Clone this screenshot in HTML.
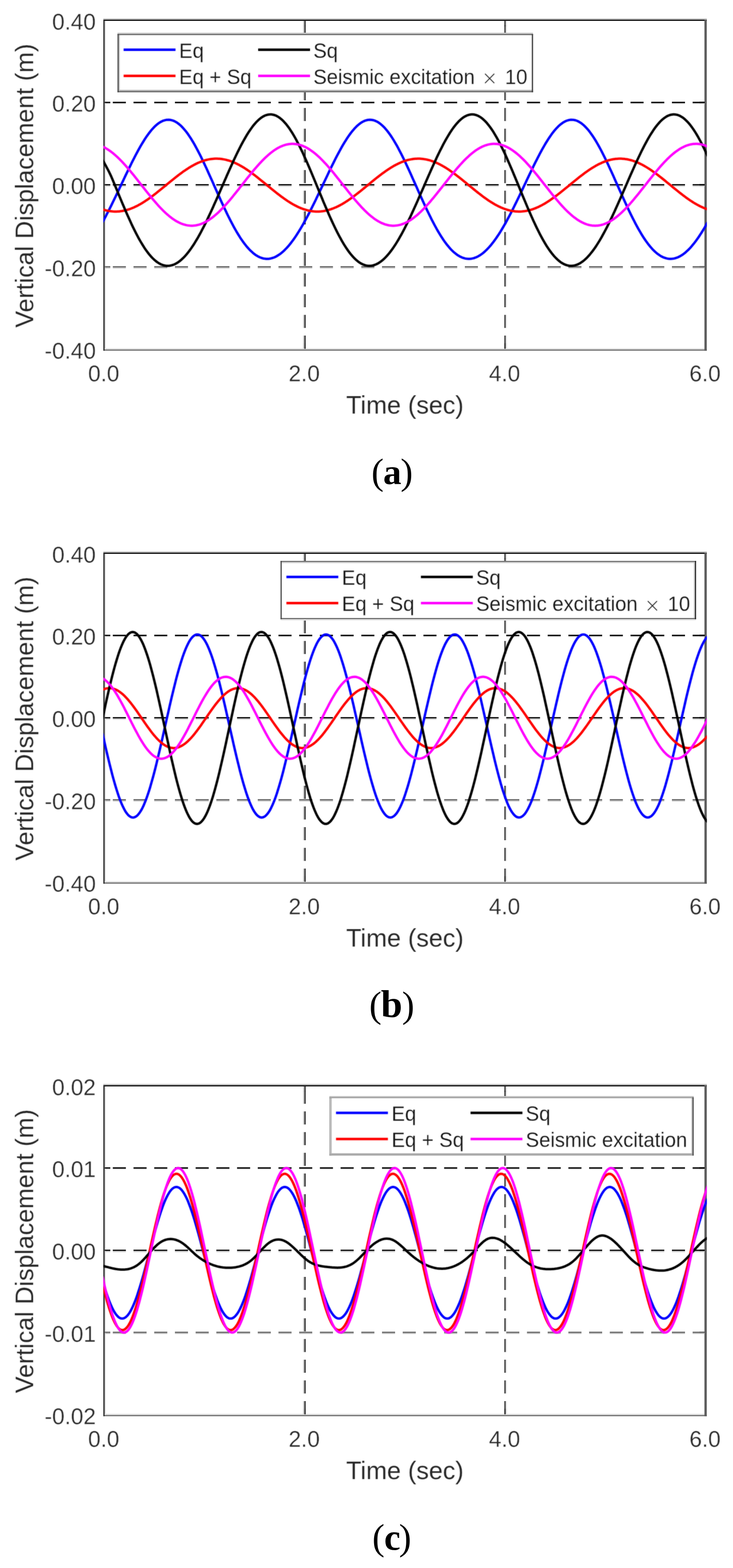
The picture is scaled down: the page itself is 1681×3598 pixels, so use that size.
<!DOCTYPE html>
<html lang="en"><head><meta charset="utf-8">
<title>Vertical displacement time histories</title>
<style>
html,body{margin:0;padding:0;background:#fff;}
body{width:1681px;height:3598px;overflow:hidden;}
svg{display:block;}
text{white-space:pre;}
.tk{stroke:#fff;stroke-width:0.5px;stroke-linejoin:round;}
.lb{stroke:#fff;stroke-width:0.2px;stroke-linejoin:round;}
.tk{font-family:"Liberation Sans", sans-serif;font-size:52.6px;fill:#262626;}
.lb{font-family:"Liberation Sans", sans-serif;font-size:57.2px;fill:#262626;}
.lg{font-family:"Liberation Sans", sans-serif;font-size:48.4px;fill:#161616;stroke:#fff;stroke-width:0.35px;stroke-linejoin:round;}
.mx{font-family:"DejaVu Sans Light","DejaVu Sans","Liberation Sans", sans-serif;font-weight:200;font-size:44px;fill:#303030;}
.cap{font-family:"Liberation Serif", serif;font-size:88px;fill:#000;}
.cv{fill:none;stroke-width:5.5;stroke-linejoin:round;stroke-linecap:butt;}
.gr{stroke:#1e1e1e;stroke-width:2.7;stroke-dasharray:30 17.49;fill:none;}
.gh{stroke:#cfcfcf;stroke-width:2.2;stroke-dasharray:30 17.49;fill:none;}
.tm{stroke:#262626;stroke-width:2.6;fill:none;}
</style></head><body>
<svg width="1681" height="3598" viewBox="0 0 1681 3598" role="img" aria-label="Vertical displacement versus time, panels a to c">
<defs><clipPath id="clipbox"><rect x="237.0" y="46.5" width="1384.0" height="755.0"/></clipPath>
<filter id="soft" filterUnits="userSpaceOnUse" x="0" y="0" width="1681" height="1000" color-interpolation-filters="sRGB"><feGaussianBlur in="SourceGraphic" stdDeviation="1" result="b"/><feComposite in="SourceGraphic" in2="b" operator="arithmetic" k1="0" k2="0.5" k3="0.5" k4="0"/></filter></defs>
<rect x="0" y="0" width="1681" height="3598" fill="#ffffff"/>
<g transform="translate(0,0)">
<line class="gr" style="stroke:#e2e2e2;stroke-width:1.8" x1="239.0" y1="238.10" x2="1618.0" y2="238.10" stroke-dashoffset="27.79"/>
<line class="gr" style="stroke:#060606;stroke-width:3.1" x1="239.0" y1="235.10" x2="1618.0" y2="235.10" stroke-dashoffset="27.79"/>
<line class="gr" style="stroke:#d4d4d4;stroke-width:2.6" x1="239.0" y1="427.10" x2="1618.0" y2="427.10" stroke-dashoffset="27.79"/>
<line class="gr" style="stroke:#060606;stroke-width:3" x1="239.0" y1="424.00" x2="1618.0" y2="424.00" stroke-dashoffset="27.79"/>
<line class="gr" style="stroke:#c0c0c0;stroke-width:2.5" x1="239.0" y1="614.75" x2="1618.0" y2="614.75" stroke-dashoffset="27.79"/>
<line class="gr" style="stroke:#636363;stroke-width:2.8" x1="239.0" y1="612.10" x2="1618.0" y2="612.10" stroke-dashoffset="27.79"/>
<line class="gr" style="stroke:#c4c4c4;stroke-width:2.8" x1="696.62" y1="46.5" x2="696.62" y2="801.5" stroke-dashoffset="36.29"/>
<line class="gr" style="stroke:#363636;stroke-width:3" x1="699.57" y1="46.5" x2="699.57" y2="801.5" stroke-dashoffset="36.29"/>
<line class="gr" style="stroke:#e0e0e0;stroke-width:2.4" x1="1161.23" y1="46.5" x2="1161.23" y2="801.5" stroke-dashoffset="36.29"/>
<line class="gr" style="stroke:#363636;stroke-width:3" x1="1158.13" y1="46.5" x2="1158.13" y2="801.5" stroke-dashoffset="36.29"/>
<rect x="237" y="42.2" width="1384" height="2.8" fill="#c4c4c4"/>
<rect x="237" y="45" width="1384" height="3" fill="#1c1c1c"/>
<rect x="237" y="799.2" width="1384" height="2.8" fill="#dedede"/>
<rect x="237" y="802" width="1384" height="2.7" fill="#707070"/>
<rect x="239.8" y="48" width="2.2" height="751" fill="#c8c8c8"/>
<rect x="237" y="45" width="2.8" height="759.7" fill="#2a2a2a"/>
<rect x="1615.5" y="45" width="5.3" height="759.7" fill="#5c5c5c"/>
<line x1="240.5" y1="238.10" x2="253.0" y2="238.10" stroke="#e2e2e2" stroke-width="1.8"/>
<line x1="1604.0" y1="238.10" x2="1616.0" y2="238.10" stroke="#e2e2e2" stroke-width="1.8"/>
<line x1="240.5" y1="235.10" x2="253.0" y2="235.10" stroke="#060606" stroke-width="3.1"/>
<line x1="1604.0" y1="235.10" x2="1616.0" y2="235.10" stroke="#060606" stroke-width="3.1"/>
<line x1="240.5" y1="427.10" x2="253.0" y2="427.10" stroke="#d4d4d4" stroke-width="2.6"/>
<line x1="1604.0" y1="427.10" x2="1616.0" y2="427.10" stroke="#d4d4d4" stroke-width="2.6"/>
<line x1="240.5" y1="424.00" x2="253.0" y2="424.00" stroke="#060606" stroke-width="3"/>
<line x1="1604.0" y1="424.00" x2="1616.0" y2="424.00" stroke="#060606" stroke-width="3"/>
<line x1="240.5" y1="614.75" x2="253.0" y2="614.75" stroke="#c0c0c0" stroke-width="2.5"/>
<line x1="1604.0" y1="614.75" x2="1616.0" y2="614.75" stroke="#c0c0c0" stroke-width="2.5"/>
<line x1="240.5" y1="612.10" x2="253.0" y2="612.10" stroke="#636363" stroke-width="2.8"/>
<line x1="1604.0" y1="612.10" x2="1616.0" y2="612.10" stroke="#636363" stroke-width="2.8"/>
<line x1="696.62" y1="48.0" x2="696.62" y2="60.5" stroke="#c4c4c4" stroke-width="2.8"/>
<line x1="696.62" y1="787.5" x2="696.62" y2="800.5" stroke="#c4c4c4" stroke-width="2.8"/>
<line x1="699.57" y1="48.0" x2="699.57" y2="60.5" stroke="#363636" stroke-width="3"/>
<line x1="699.57" y1="787.5" x2="699.57" y2="800.5" stroke="#363636" stroke-width="3"/>
<line x1="1161.23" y1="48.0" x2="1161.23" y2="60.5" stroke="#e0e0e0" stroke-width="2.4"/>
<line x1="1161.23" y1="787.5" x2="1161.23" y2="800.5" stroke="#e0e0e0" stroke-width="2.4"/>
<line x1="1158.13" y1="48.0" x2="1158.13" y2="60.5" stroke="#363636" stroke-width="3"/>
<line x1="1158.13" y1="787.5" x2="1158.13" y2="800.5" stroke="#363636" stroke-width="3"/>
<g filter="url(#soft)"><g clip-path="url(#clipbox)">
<polyline class="cv" stroke="#0000ff" points="235.0,510.1 237.5,505.6 240.0,501.0 242.4,496.4 244.9,491.6 247.4,486.8 249.9,481.9 252.4,477.0 254.9,472.0 257.3,467.0 259.8,461.9 262.3,456.8 264.8,451.6 267.3,446.4 269.8,441.2 272.2,436.0 274.7,430.7 277.2,425.5 279.7,420.2 282.2,415.0 284.7,409.7 287.1,404.5 289.6,399.3 292.1,394.1 294.6,388.9 297.1,383.8 299.6,378.8 302.0,373.7 304.5,368.8 307.0,363.9 309.5,359.1 312.0,354.3 314.5,349.6 316.9,345.1 319.4,340.6 321.9,336.2 324.4,331.9 326.9,327.8 329.4,323.7 331.8,319.8 334.3,316.0 336.8,312.3 339.3,308.8 341.8,305.5 344.3,302.3 346.7,299.2 349.2,296.3 351.7,293.6 354.2,291.0 356.7,288.6 359.2,286.4 361.6,284.4 364.1,282.6 366.6,280.9 369.1,279.5 371.6,278.2 374.0,277.1 376.5,276.3 379.0,275.6 381.5,275.1 384.0,274.9 386.5,274.8 388.9,275.0 391.4,275.3 393.9,275.9 396.4,276.7 398.9,277.6 401.4,278.8 403.8,280.2 406.3,281.7 408.8,283.5 411.3,285.5 413.8,287.6 416.3,290.0 418.7,292.5 421.2,295.3 423.7,298.2 426.2,301.2 428.7,304.5 431.2,307.9 433.6,311.5 436.1,315.2 438.6,319.1 441.1,323.2 443.6,327.3 446.1,331.7 448.5,336.1 451.0,340.7 453.5,345.4 456.0,350.2 458.5,355.0 461.0,360.0 463.4,365.1 465.9,370.3 468.4,375.5 470.9,380.8 473.4,386.2 475.9,391.6 478.3,397.1 480.8,402.6 483.3,408.1 485.8,413.7 488.3,419.2 490.7,424.8 493.2,430.4 495.7,436.0 498.2,441.5 500.7,447.1 503.2,452.6 505.6,458.1 508.1,463.6 510.6,469.0 513.1,474.3 515.6,479.6 518.1,484.8 520.5,490.0 523.0,495.1 525.5,500.1 528.0,505.0 530.5,509.8 533.0,514.5 535.4,519.1 537.9,523.6 540.4,528.0 542.9,532.3 545.4,536.5 547.9,540.5 550.3,544.4 552.8,548.2 555.3,551.8 557.8,555.3 560.3,558.7 562.8,561.9 565.2,565.0 567.7,567.9 570.2,570.7 572.7,573.3 575.2,575.8 577.7,578.1 580.1,580.3 582.6,582.3 585.1,584.2 587.6,585.9 590.1,587.4 592.6,588.8 595.0,590.0 597.5,591.0 600.0,591.9 602.5,592.7 605.0,593.2 607.5,593.6 609.9,593.9 612.4,594.0 614.9,593.9 617.4,593.7 619.9,593.3 622.3,592.7 624.8,592.0 627.3,591.2 629.8,590.2 632.3,589.0 634.8,587.7 637.2,586.2 639.7,584.6 642.2,582.9 644.7,581.0 647.2,578.9 649.7,576.7 652.1,574.4 654.6,571.9 657.1,569.4 659.6,566.6 662.1,563.8 664.6,560.8 667.0,557.7 669.5,554.4 672.0,551.1 674.5,547.6 677.0,544.0 679.5,540.3 681.9,536.5 684.4,532.6 686.9,528.5 689.4,524.4 691.9,520.2 694.4,515.9 696.8,511.5 699.3,507.0 701.8,502.4 704.3,497.8 706.8,493.1 709.3,488.3 711.7,483.4 714.2,478.5 716.7,473.6 719.2,468.5 721.7,463.5 724.2,458.4 726.6,453.2 729.1,448.0 731.6,442.8 734.1,437.6 736.6,432.3 739.1,427.1 741.5,421.8 744.0,416.6 746.5,411.3 749.0,406.1 751.5,400.9 753.9,395.7 756.4,390.5 758.9,385.4 761.4,380.3 763.9,375.3 766.4,370.3 768.8,365.4 771.3,360.5 773.8,355.8 776.3,351.1 778.8,346.5 781.3,341.9 783.7,337.5 786.2,333.2 788.7,329.0 791.2,324.9 793.7,321.0 796.2,317.1 798.6,313.5 801.1,309.9 803.6,306.5 806.1,303.2 808.6,300.1 811.1,297.2 813.5,294.4 816.0,291.8 818.5,289.3 821.0,287.1 823.5,285.0 826.0,283.1 828.4,281.4 830.9,279.9 833.4,278.6 835.9,277.4 838.4,276.5 840.9,275.8 843.3,275.3 845.8,274.9 848.3,274.8 850.8,274.9 853.3,275.2 855.8,275.7 858.2,276.4 860.7,277.3 863.2,278.4 865.7,279.7 868.2,281.2 870.6,282.9 873.1,284.9 875.6,287.0 878.1,289.3 880.6,291.7 883.1,294.4 885.5,297.3 888.0,300.3 890.5,303.5 893.0,306.9 895.5,310.4 898.0,314.1 900.4,317.9 902.9,321.9 905.4,326.1 907.9,330.3 910.4,334.7 912.9,339.3 915.3,343.9 917.8,348.7 920.3,353.5 922.8,358.5 925.3,363.6 927.8,368.7 930.2,373.9 932.7,379.2 935.2,384.5 937.7,389.9 940.2,395.4 942.7,400.9 945.1,406.4 947.6,412.0 950.1,417.5 952.6,423.1 955.1,428.7 957.6,434.3 960.0,439.8 962.5,445.4 965.0,450.9 967.5,456.4 970.0,461.9 972.5,467.3 974.9,472.7 977.4,478.0 979.9,483.2 982.4,488.4 984.9,493.5 987.4,498.5 989.8,503.5 992.3,508.3 994.8,513.1 997.3,517.7 999.8,522.3 1002.2,526.7 1004.7,531.0 1007.2,535.2 1009.7,539.3 1012.2,543.2 1014.7,547.0 1017.1,550.7 1019.6,554.3 1022.1,557.7 1024.6,561.0 1027.1,564.1 1029.6,567.1 1032.0,569.9 1034.5,572.6 1037.0,575.1 1039.5,577.5 1042.0,579.7 1044.5,581.7 1046.9,583.6 1049.4,585.4 1051.9,586.9 1054.4,588.4 1056.9,589.6 1059.4,590.7 1061.8,591.7 1064.3,592.4 1066.8,593.1 1069.3,593.5 1071.8,593.8 1074.3,594.0 1076.7,593.9 1079.2,593.7 1081.7,593.4 1084.2,592.9 1086.7,592.3 1089.2,591.4 1091.6,590.5 1094.1,589.4 1096.6,588.1 1099.1,586.7 1101.6,585.1 1104.1,583.4 1106.5,581.6 1109.0,579.6 1111.5,577.4 1114.0,575.1 1116.5,572.7 1118.9,570.2 1121.4,567.5 1123.9,564.7 1126.4,561.7 1128.9,558.6 1131.4,555.4 1133.8,552.1 1136.3,548.7 1138.8,545.1 1141.3,541.4 1143.8,537.7 1146.3,533.8 1148.7,529.8 1151.2,525.7 1153.7,521.5 1156.2,517.2 1158.7,512.9 1161.2,508.4 1163.6,503.9 1166.1,499.2 1168.6,494.5 1171.1,489.8 1173.6,484.9 1176.1,480.0 1178.5,475.1 1181.0,470.1 1183.5,465.0 1186.0,459.9 1188.5,454.8 1191.0,449.6 1193.4,444.4 1195.9,439.2 1198.4,434.0 1200.9,428.7 1203.4,423.4 1205.9,418.2 1208.3,412.9 1210.8,407.7 1213.3,402.5 1215.8,397.3 1218.3,392.1 1220.8,387.0 1223.2,381.9 1225.7,376.8 1228.2,371.8 1230.7,366.9 1233.2,362.0 1235.7,357.2 1238.1,352.5 1240.6,347.9 1243.1,343.3 1245.6,338.9 1248.1,334.5 1250.5,330.3 1253.0,326.2 1255.5,322.2 1258.0,318.3 1260.5,314.6 1263.0,311.0 1265.4,307.5 1267.9,304.2 1270.4,301.1 1272.9,298.1 1275.4,295.2 1277.9,292.6 1280.3,290.1 1282.8,287.8 1285.3,285.6 1287.8,283.7 1290.3,281.9 1292.8,280.3 1295.2,279.0 1297.7,277.8 1300.2,276.8 1302.7,276.0 1305.2,275.4 1307.7,275.0 1310.1,274.8 1312.6,274.9 1315.1,275.1 1317.6,275.5 1320.1,276.2 1322.6,277.0 1325.0,278.0 1327.5,279.3 1330.0,280.8 1332.5,282.4 1335.0,284.3 1337.5,286.3 1339.9,288.5 1342.4,291.0 1344.9,293.6 1347.4,296.4 1349.9,299.3 1352.4,302.5 1354.8,305.8 1357.3,309.3 1359.8,312.9 1362.3,316.7 1364.8,320.7 1367.3,324.8 1369.7,329.0 1372.2,333.4 1374.7,337.9 1377.2,342.5 1379.7,347.2 1382.1,352.0 1384.6,357.0 1387.1,362.0 1389.6,367.1 1392.1,372.3 1394.6,377.6 1397.0,382.9 1399.5,388.3 1402.0,393.7 1404.5,399.2 1407.0,404.7 1409.5,410.3 1411.9,415.8 1414.4,421.4 1416.9,427.0 1419.4,432.6 1421.9,438.1 1424.4,443.7 1426.8,449.2 1429.3,454.7 1431.8,460.2 1434.3,465.6 1436.8,471.0 1439.3,476.4 1441.7,481.6 1444.2,486.8 1446.7,492.0 1449.2,497.0 1451.7,502.0 1454.2,506.8 1456.6,511.6 1459.1,516.3 1461.6,520.9 1464.1,525.3 1466.6,529.7 1469.1,533.9 1471.5,538.0 1474.0,542.0 1476.5,545.9 1479.0,549.6 1481.5,553.2 1484.0,556.7 1486.4,560.0 1488.9,563.1 1491.4,566.2 1493.9,569.0 1496.4,571.8 1498.8,574.3 1501.3,576.7 1503.8,579.0 1506.3,581.1 1508.8,583.1 1511.3,584.8 1513.7,586.5 1516.2,588.0 1518.7,589.3 1521.2,590.4 1523.7,591.4 1526.2,592.2 1528.6,592.9 1531.1,593.4 1533.6,593.7 1536.1,593.9 1538.6,594.0 1541.1,593.8 1543.5,593.5 1546.0,593.1 1548.5,592.5 1551.0,591.7 1553.5,590.8 1556.0,589.7 1558.4,588.5 1560.9,587.1 1563.4,585.6 1565.9,584.0 1568.4,582.1 1570.9,580.2 1573.3,578.1 1575.8,575.8 1578.3,573.5 1580.8,571.0 1583.3,568.3 1585.8,565.5 1588.2,562.6 1590.7,559.6 1593.2,556.4 1595.7,553.1 1598.2,549.7 1600.7,546.2 1603.1,542.6 1605.6,538.8 1608.1,535.0 1610.6,531.0 1613.1,527.0 1615.6,522.8 1618.0,518.6 1620.5,514.2 1623.0,509.8"/>
<polyline class="cv" stroke="#ff0000" points="235.0,480.4 237.5,481.2 240.0,481.9 242.4,482.6 244.9,483.1 247.4,483.7 249.9,484.1 252.4,484.5 254.9,484.8 257.3,485.1 259.8,485.3 262.3,485.4 264.8,485.4 267.3,485.4 269.8,485.3 272.2,485.2 274.7,484.9 277.2,484.6 279.7,484.3 282.2,483.8 284.7,483.3 287.1,482.8 289.6,482.1 292.1,481.4 294.6,480.7 297.1,479.8 299.6,479.0 302.0,478.0 304.5,477.0 307.0,475.9 309.5,474.8 312.0,473.6 314.5,472.4 316.9,471.1 319.4,469.7 321.9,468.3 324.4,466.9 326.9,465.4 329.4,463.8 331.8,462.3 334.3,460.6 336.8,458.9 339.3,457.2 341.8,455.5 344.3,453.7 346.7,451.9 349.2,450.1 351.7,448.2 354.2,446.3 356.7,444.4 359.2,442.4 361.6,440.4 364.1,438.4 366.6,436.4 369.1,434.4 371.6,432.4 374.0,430.4 376.5,428.3 379.0,426.3 381.5,424.2 384.0,422.2 386.5,420.2 388.9,418.1 391.4,416.1 393.9,414.1 396.4,412.1 398.9,410.1 401.4,408.1 403.8,406.1 406.3,404.2 408.8,402.3 411.3,400.4 413.8,398.5 416.3,396.7 418.7,394.9 421.2,393.1 423.7,391.4 426.2,389.7 428.7,388.1 431.2,386.5 433.6,384.9 436.1,383.4 438.6,381.9 441.1,380.5 443.6,379.1 446.1,377.8 448.5,376.5 451.0,375.3 453.5,374.1 456.0,373.0 458.5,372.0 461.0,371.0 463.4,370.1 465.9,369.2 468.4,368.4 470.9,367.7 473.4,367.0 475.9,366.4 478.3,365.9 480.8,365.4 483.3,365.0 485.8,364.7 488.3,364.5 490.7,364.3 493.2,364.1 495.7,364.1 498.2,364.1 500.7,364.2 503.2,364.3 505.6,364.5 508.1,364.8 510.6,365.2 513.1,365.6 515.6,366.1 518.1,366.6 520.5,367.3 523.0,368.0 525.5,368.7 528.0,369.5 530.5,370.4 533.0,371.4 535.4,372.4 537.9,373.4 540.4,374.5 542.9,375.7 545.4,376.9 547.9,378.2 550.3,379.6 552.8,381.0 555.3,382.4 557.8,383.9 560.3,385.4 562.8,387.0 565.2,388.6 567.7,390.3 570.2,392.0 572.7,393.7 575.2,395.5 577.7,397.3 580.1,399.2 582.6,401.0 585.1,402.9 587.6,404.9 590.1,406.8 592.6,408.8 595.0,410.8 597.5,412.8 600.0,414.8 602.5,416.8 605.0,418.8 607.5,420.9 609.9,422.9 612.4,424.9 614.9,427.0 617.4,429.0 619.9,431.1 622.3,433.1 624.8,435.1 627.3,437.1 629.8,439.1 632.3,441.1 634.8,443.1 637.2,445.0 639.7,446.9 642.2,448.8 644.7,450.7 647.2,452.5 649.7,454.3 652.1,456.1 654.6,457.8 657.1,459.5 659.6,461.2 662.1,462.8 664.6,464.4 667.0,465.9 669.5,467.4 672.0,468.8 674.5,470.2 677.0,471.5 679.5,472.8 681.9,474.0 684.4,475.2 686.9,476.3 689.4,477.4 691.9,478.3 694.4,479.3 696.8,480.1 699.3,480.9 701.8,481.7 704.3,482.4 706.8,483.0 709.3,483.5 711.7,484.0 714.2,484.4 716.7,484.7 719.2,485.0 721.7,485.2 724.2,485.4 726.6,485.4 729.1,485.4 731.6,485.4 734.1,485.2 736.6,485.0 739.1,484.7 741.5,484.4 744.0,484.0 746.5,483.5 749.0,483.0 751.5,482.3 753.9,481.7 756.4,480.9 758.9,480.1 761.4,479.2 763.9,478.3 766.4,477.3 768.8,476.3 771.3,475.2 773.8,474.0 776.3,472.8 778.8,471.5 781.3,470.1 783.7,468.8 786.2,467.3 788.7,465.8 791.2,464.3 793.7,462.7 796.2,461.1 798.6,459.5 801.1,457.8 803.6,456.0 806.1,454.3 808.6,452.5 811.1,450.6 813.5,448.8 816.0,446.9 818.5,444.9 821.0,443.0 823.5,441.0 826.0,439.1 828.4,437.1 830.9,435.1 833.4,433.0 835.9,431.0 838.4,429.0 840.9,426.9 843.3,424.9 845.8,422.8 848.3,420.8 850.8,418.7 853.3,416.7 855.8,414.7 858.2,412.7 860.7,410.7 863.2,408.7 865.7,406.7 868.2,404.8 870.6,402.9 873.1,401.0 875.6,399.1 878.1,397.3 880.6,395.5 883.1,393.7 885.5,391.9 888.0,390.2 890.5,388.6 893.0,387.0 895.5,385.4 898.0,383.8 900.4,382.4 902.9,380.9 905.4,379.5 907.9,378.2 910.4,376.9 912.9,375.7 915.3,374.5 917.8,373.4 920.3,372.3 922.8,371.3 925.3,370.4 927.8,369.5 930.2,368.7 932.7,367.9 935.2,367.2 937.7,366.6 940.2,366.1 942.7,365.6 945.1,365.2 947.6,364.8 950.1,364.5 952.6,364.3 955.1,364.2 957.6,364.1 960.0,364.1 962.5,364.1 965.0,364.3 967.5,364.5 970.0,364.7 972.5,365.1 974.9,365.5 977.4,365.9 979.9,366.5 982.4,367.1 984.9,367.7 987.4,368.5 989.8,369.3 992.3,370.1 994.8,371.1 997.3,372.0 999.8,373.1 1002.2,374.2 1004.7,375.3 1007.2,376.6 1009.7,377.8 1012.2,379.2 1014.7,380.5 1017.1,382.0 1019.6,383.4 1022.1,384.9 1024.6,386.5 1027.1,388.1 1029.6,389.8 1032.0,391.5 1034.5,393.2 1037.0,395.0 1039.5,396.8 1042.0,398.6 1044.5,400.5 1046.9,402.3 1049.4,404.3 1051.9,406.2 1054.4,408.2 1056.9,410.1 1059.4,412.1 1061.8,414.1 1064.3,416.2 1066.8,418.2 1069.3,420.2 1071.8,422.3 1074.3,424.3 1076.7,426.4 1079.2,428.4 1081.7,430.4 1084.2,432.5 1086.7,434.5 1089.2,436.5 1091.6,438.5 1094.1,440.5 1096.6,442.5 1099.1,444.4 1101.6,446.3 1104.1,448.2 1106.5,450.1 1109.0,452.0 1111.5,453.8 1114.0,455.6 1116.5,457.3 1118.9,459.0 1121.4,460.7 1123.9,462.3 1126.4,463.9 1128.9,465.4 1131.4,466.9 1133.8,468.4 1136.3,469.8 1138.8,471.1 1141.3,472.4 1143.8,473.7 1146.3,474.8 1148.7,476.0 1151.2,477.0 1153.7,478.0 1156.2,479.0 1158.7,479.9 1161.2,480.7 1163.6,481.5 1166.1,482.2 1168.6,482.8 1171.1,483.4 1173.6,483.9 1176.1,484.3 1178.5,484.6 1181.0,484.9 1183.5,485.2 1186.0,485.3 1188.5,485.4 1191.0,485.4 1193.4,485.4 1195.9,485.3 1198.4,485.1 1200.9,484.8 1203.4,484.5 1205.9,484.1 1208.3,483.7 1210.8,483.1 1213.3,482.5 1215.8,481.9 1218.3,481.2 1220.8,480.4 1223.2,479.5 1225.7,478.6 1228.2,477.6 1230.7,476.6 1233.2,475.5 1235.7,474.4 1238.1,473.1 1240.6,471.9 1243.1,470.6 1245.6,469.2 1248.1,467.8 1250.5,466.3 1253.0,464.8 1255.5,463.2 1258.0,461.6 1260.5,460.0 1263.0,458.3 1265.4,456.6 1267.9,454.8 1270.4,453.0 1272.9,451.2 1275.4,449.3 1277.9,447.5 1280.3,445.5 1282.8,443.6 1285.3,441.7 1287.8,439.7 1290.3,437.7 1292.8,435.7 1295.2,433.7 1297.7,431.6 1300.2,429.6 1302.7,427.6 1305.2,425.5 1307.7,423.5 1310.1,421.4 1312.6,419.4 1315.1,417.3 1317.6,415.3 1320.1,413.3 1322.6,411.3 1325.0,409.3 1327.5,407.3 1330.0,405.4 1332.5,403.5 1335.0,401.6 1337.5,399.7 1339.9,397.8 1342.4,396.0 1344.9,394.2 1347.4,392.5 1349.9,390.8 1352.4,389.1 1354.8,387.5 1357.3,385.9 1359.8,384.3 1362.3,382.8 1364.8,381.4 1367.3,379.9 1369.7,378.6 1372.2,377.3 1374.7,376.0 1377.2,374.9 1379.7,373.7 1382.1,372.6 1384.6,371.6 1387.1,370.7 1389.6,369.8 1392.1,368.9 1394.6,368.2 1397.0,367.5 1399.5,366.8 1402.0,366.2 1404.5,365.7 1407.0,365.3 1409.5,364.9 1411.9,364.6 1414.4,364.4 1416.9,364.2 1419.4,364.1 1421.9,364.1 1424.4,364.1 1426.8,364.2 1429.3,364.4 1431.8,364.6 1434.3,365.0 1436.8,365.3 1439.3,365.8 1441.7,366.3 1444.2,366.9 1446.7,367.5 1449.2,368.2 1451.7,369.0 1454.2,369.9 1456.6,370.8 1459.1,371.7 1461.6,372.7 1464.1,373.8 1466.6,375.0 1469.1,376.2 1471.5,377.4 1474.0,378.7 1476.5,380.1 1479.0,381.5 1481.5,383.0 1484.0,384.5 1486.4,386.0 1488.9,387.6 1491.4,389.3 1493.9,390.9 1496.4,392.7 1498.8,394.4 1501.3,396.2 1503.8,398.0 1506.3,399.9 1508.8,401.8 1511.3,403.7 1513.7,405.6 1516.2,407.5 1518.7,409.5 1521.2,411.5 1523.7,413.5 1526.2,415.5 1528.6,417.6 1531.1,419.6 1533.6,421.6 1536.1,423.7 1538.6,425.7 1541.1,427.8 1543.5,429.8 1546.0,431.9 1548.5,433.9 1551.0,435.9 1553.5,437.9 1556.0,439.9 1558.4,441.9 1560.9,443.8 1563.4,445.7 1565.9,447.7 1568.4,449.5 1570.9,451.4 1573.3,453.2 1575.8,455.0 1578.3,456.8 1580.8,458.5 1583.3,460.2 1585.8,461.8 1588.2,463.4 1590.7,465.0 1593.2,466.5 1595.7,467.9 1598.2,469.3 1600.7,470.7 1603.1,472.0 1605.6,473.3 1608.1,474.5 1610.6,475.6 1613.1,476.7 1615.6,477.7 1618.0,478.7 1620.5,479.6 1623.0,480.5"/>
<polyline class="cv" stroke="#000000" points="235.0,367.2 237.5,371.2 240.0,375.5 242.4,379.9 244.9,384.5 247.4,389.2 249.9,394.1 252.4,399.2 254.9,404.5 257.3,410.1 259.8,416.1 262.3,422.1 264.8,428.1 267.3,434.2 269.8,440.2 272.2,446.2 274.7,452.3 277.2,458.2 279.7,464.2 282.2,470.1 284.7,475.9 287.1,481.7 289.6,487.5 292.1,493.1 294.6,498.7 297.1,504.2 299.6,509.6 302.0,515.0 304.5,520.2 307.0,525.3 309.5,530.3 312.0,535.2 314.5,540.0 316.9,544.6 319.4,549.1 321.9,553.5 324.4,557.7 326.9,561.8 329.4,565.8 331.8,569.6 334.3,573.2 336.8,576.7 339.3,580.0 341.8,583.2 344.3,586.1 346.7,589.0 349.2,591.6 351.7,594.1 354.2,596.4 356.7,598.5 359.2,600.5 361.6,602.2 364.1,603.8 366.6,605.2 369.1,606.5 371.6,607.5 374.0,608.4 376.5,609.0 379.0,609.5 381.5,609.9 384.0,610.0 386.5,609.9 388.9,609.7 391.4,609.3 393.9,608.7 396.4,608.0 398.9,607.0 401.4,605.9 403.8,604.6 406.3,603.2 408.8,601.5 411.3,599.7 413.8,597.8 416.3,595.6 418.7,593.3 421.2,590.9 423.7,588.3 426.2,585.5 428.7,582.6 431.2,579.5 433.6,576.3 436.1,573.0 438.6,569.5 441.1,565.8 443.6,562.1 446.1,558.2 448.5,554.2 451.0,550.0 453.5,545.8 456.0,541.4 458.5,536.9 461.0,532.3 463.4,527.6 465.9,522.8 468.4,517.9 470.9,512.9 473.4,507.9 475.9,502.7 478.3,497.5 480.8,492.2 483.3,486.8 485.8,481.4 488.3,476.0 490.7,470.4 493.2,464.9 495.7,459.3 498.2,453.6 500.7,448.0 503.2,442.3 505.6,436.6 508.1,430.9 510.6,425.2 513.1,419.5 515.6,413.7 518.1,408.1 520.5,402.4 523.0,396.8 525.5,391.2 528.0,385.6 530.5,380.1 533.0,374.6 535.4,369.2 537.9,363.9 540.4,358.6 542.9,353.4 545.4,348.3 547.9,343.3 550.3,338.4 552.8,333.6 555.3,328.9 557.8,324.3 560.3,319.8 562.8,315.5 565.2,311.3 567.7,307.2 570.2,303.3 572.7,299.6 575.2,296.0 577.7,292.5 580.1,289.2 582.6,286.1 585.1,283.2 587.6,280.4 590.1,277.9 592.6,275.5 595.0,273.3 597.5,271.3 600.0,269.5 602.5,267.9 605.0,266.5 607.5,265.3 609.9,264.3 612.4,263.6 614.9,263.0 617.4,262.7 619.9,262.6 622.3,262.6 624.8,262.9 627.3,263.5 629.8,264.2 632.3,265.1 634.8,266.3 637.2,267.7 639.7,269.3 642.2,271.1 644.7,273.1 647.2,275.3 649.7,277.7 652.1,280.3 654.6,283.1 657.1,286.1 659.6,289.3 662.1,292.7 664.6,296.2 667.0,299.9 669.5,303.8 672.0,307.9 674.5,312.1 677.0,316.5 679.5,321.0 681.9,325.7 684.4,330.5 686.9,335.4 689.4,340.5 691.9,345.7 694.4,350.9 696.8,356.3 699.3,361.8 701.8,367.4 704.3,373.0 706.8,378.8 709.3,384.6 711.7,390.4 714.2,396.3 716.7,402.2 719.2,408.2 721.7,414.2 724.2,420.3 726.6,426.3 729.1,432.3 731.6,438.4 734.1,444.4 736.6,450.4 739.1,456.4 741.5,462.4 744.0,468.3 746.5,474.1 749.0,479.9 751.5,485.7 753.9,491.4 756.4,497.0 758.9,502.5 761.4,508.0 763.9,513.3 766.4,518.6 768.8,523.7 771.3,528.8 773.8,533.7 776.3,538.5 778.8,543.2 781.3,547.7 783.7,552.2 786.2,556.4 788.7,560.6 791.2,564.6 793.7,568.4 796.2,572.1 798.6,575.6 801.1,579.0 803.6,582.2 806.1,585.2 808.6,588.1 811.1,590.8 813.5,593.3 816.0,595.7 818.5,597.9 821.0,599.9 823.5,601.7 826.0,603.4 828.4,604.8 830.9,606.1 833.4,607.2 835.9,608.1 838.4,608.9 840.9,609.4 843.3,609.8 845.8,610.0 848.3,610.0 850.8,609.8 853.3,609.5 855.8,608.9 858.2,608.2 860.7,607.3 863.2,606.3 865.7,605.0 868.2,603.6 870.6,602.0 873.1,600.3 875.6,598.4 878.1,596.3 880.6,594.1 883.1,591.6 885.5,589.1 888.0,586.4 890.5,583.5 893.0,580.5 895.5,577.3 898.0,574.0 900.4,570.6 902.9,567.0 905.4,563.2 907.9,559.4 910.4,555.4 912.9,551.3 915.3,547.1 917.8,542.7 920.3,538.3 922.8,533.7 925.3,529.0 927.8,524.3 930.2,519.4 932.7,514.5 935.2,509.4 937.7,504.3 940.2,499.1 942.7,493.8 945.1,488.5 947.6,483.1 950.1,477.6 952.6,472.1 955.1,466.6 957.6,461.0 960.0,455.4 962.5,449.7 965.0,444.0 967.5,438.3 970.0,432.6 972.5,426.9 974.9,421.2 977.4,415.5 979.9,409.8 982.4,404.1 984.9,398.5 987.4,392.9 989.8,387.3 992.3,381.8 994.8,376.3 997.3,370.9 999.8,365.5 1002.2,360.2 1004.7,355.0 1007.2,349.9 1009.7,344.8 1012.2,339.9 1014.7,335.0 1017.1,330.3 1019.6,325.7 1022.1,321.2 1024.6,316.8 1027.1,312.6 1029.6,308.5 1032.0,304.5 1034.5,300.7 1037.0,297.0 1039.5,293.5 1042.0,290.2 1044.5,287.1 1046.9,284.1 1049.4,281.3 1051.9,278.6 1054.4,276.2 1056.9,273.9 1059.4,271.9 1061.8,270.0 1064.3,268.4 1066.8,266.9 1069.3,265.7 1071.8,264.6 1074.3,263.8 1076.7,263.2 1079.2,262.8 1081.7,262.6 1084.2,262.6 1086.7,262.8 1089.2,263.3 1091.6,263.9 1094.1,264.8 1096.6,265.9 1099.1,267.2 1101.6,268.8 1104.1,270.5 1106.5,272.4 1109.0,274.6 1111.5,276.9 1114.0,279.5 1116.5,282.2 1118.9,285.2 1121.4,288.3 1123.9,291.6 1126.4,295.1 1128.9,298.8 1131.4,302.6 1133.8,306.6 1136.3,310.8 1138.8,315.1 1141.3,319.6 1143.8,324.2 1146.3,329.0 1148.7,333.9 1151.2,338.9 1153.7,344.1 1156.2,349.3 1158.7,354.7 1161.2,360.1 1163.6,365.7 1166.1,371.3 1168.6,377.0 1171.1,382.8 1173.6,388.6 1176.1,394.5 1178.5,400.4 1181.0,406.4 1183.5,412.4 1186.0,418.4 1188.5,424.4 1191.0,430.5 1193.4,436.5 1195.9,442.6 1198.4,448.6 1200.9,454.6 1203.4,460.5 1205.9,466.5 1208.3,472.3 1210.8,478.2 1213.3,483.9 1215.8,489.7 1218.3,495.3 1220.8,500.8 1223.2,506.3 1225.7,511.7 1228.2,517.0 1230.7,522.2 1233.2,527.2 1235.7,532.2 1238.1,537.1 1240.6,541.8 1243.1,546.4 1245.6,550.8 1248.1,555.1 1250.5,559.3 1253.0,563.4 1255.5,567.3 1258.0,571.0 1260.5,574.6 1263.0,578.0 1265.4,581.2 1267.9,584.3 1270.4,587.3 1272.9,590.0 1275.4,592.6 1277.9,595.0 1280.3,597.2 1282.8,599.3 1285.3,601.2 1287.8,602.9 1290.3,604.4 1292.8,605.7 1295.2,606.9 1297.7,607.9 1300.2,608.6 1302.7,609.3 1305.2,609.7 1307.7,609.9 1310.1,610.0 1312.6,609.9 1315.1,609.6 1317.6,609.1 1320.1,608.4 1322.6,607.6 1325.0,606.6 1327.5,605.4 1330.0,604.1 1332.5,602.5 1335.0,600.8 1337.5,599.0 1339.9,597.0 1342.4,594.8 1344.9,592.4 1347.4,589.9 1349.9,587.2 1352.4,584.4 1354.8,581.4 1357.3,578.3 1359.8,575.0 1362.3,571.6 1364.8,568.1 1367.3,564.4 1369.7,560.6 1372.2,556.6 1374.7,552.6 1377.2,548.4 1379.7,544.1 1382.1,539.6 1384.6,535.1 1387.1,530.5 1389.6,525.7 1392.1,520.9 1394.6,516.0 1397.0,511.0 1399.5,505.9 1402.0,500.7 1404.5,495.5 1407.0,490.1 1409.5,484.8 1411.9,479.3 1414.4,473.8 1416.9,468.3 1419.4,462.7 1421.9,457.1 1424.4,451.4 1426.8,445.8 1429.3,440.1 1431.8,434.4 1434.3,428.7 1436.8,423.0 1439.3,417.2 1441.7,411.5 1444.2,405.9 1446.7,400.2 1449.2,394.6 1451.7,389.0 1454.2,383.4 1456.6,377.9 1459.1,372.5 1461.6,367.1 1464.1,361.8 1466.6,356.6 1469.1,351.4 1471.5,346.4 1474.0,341.4 1476.5,336.5 1479.0,331.7 1481.5,327.1 1484.0,322.5 1486.4,318.1 1488.9,313.9 1491.4,309.7 1493.9,305.7 1496.4,301.9 1498.8,298.1 1501.3,294.6 1503.8,291.2 1506.3,288.0 1508.8,285.0 1511.3,282.1 1513.7,279.4 1516.2,276.9 1518.7,274.6 1521.2,272.5 1523.7,270.6 1526.2,268.9 1528.6,267.3 1531.1,266.0 1533.6,264.9 1536.1,264.0 1538.6,263.3 1541.1,262.9 1543.5,262.6 1546.0,262.6 1548.5,262.7 1551.0,263.1 1553.5,263.7 1556.0,264.5 1558.4,265.6 1560.9,266.8 1563.4,268.3 1565.9,269.9 1568.4,271.8 1570.9,273.9 1573.3,276.2 1575.8,278.7 1578.3,281.4 1580.8,284.2 1583.3,287.3 1585.8,290.6 1588.2,294.0 1590.7,297.6 1593.2,301.4 1595.7,305.4 1598.2,309.5 1600.7,313.8 1603.1,318.2 1605.6,322.8 1608.1,327.5 1610.6,332.4 1613.1,337.4 1615.6,342.5 1618.0,347.7 1620.5,353.0 1623.0,358.4"/>
<polyline class="cv" stroke="#ff00ff" points="235.0,336.2 237.5,337.4 240.0,338.7 242.4,340.0 244.9,341.5 247.4,343.1 249.9,344.7 252.4,346.5 254.9,348.3 257.3,350.2 259.8,352.2 262.3,354.3 264.8,356.5 267.3,358.7 269.8,361.0 272.2,363.4 274.7,365.8 277.2,368.4 279.7,370.9 282.2,373.6 284.7,376.3 287.1,379.0 289.6,381.8 292.1,384.7 294.6,387.6 297.1,390.5 299.6,393.5 302.0,396.5 304.5,399.6 307.0,402.6 309.5,405.7 312.0,408.9 314.5,412.0 316.9,415.1 319.4,418.3 321.9,421.5 324.4,424.6 326.9,427.8 329.4,430.9 331.8,434.1 334.3,437.2 336.8,440.4 339.3,443.5 341.8,446.6 344.3,449.6 346.7,452.7 349.2,455.7 351.7,458.6 354.2,461.5 356.7,464.4 359.2,467.3 361.6,470.0 364.1,472.8 366.6,475.5 369.1,478.1 371.6,480.6 374.0,483.1 376.5,485.6 379.0,487.9 381.5,490.2 384.0,492.4 386.5,494.5 388.9,496.6 391.4,498.5 393.9,500.4 396.4,502.2 398.9,503.9 401.4,505.6 403.8,507.1 406.3,508.5 408.8,509.8 411.3,511.1 413.8,512.2 416.3,513.2 418.7,514.2 421.2,515.0 423.7,515.7 426.2,516.4 428.7,516.9 431.2,517.3 433.6,517.6 436.1,517.8 438.6,517.9 441.1,517.9 443.6,517.8 446.1,517.5 448.5,517.2 451.0,516.8 453.5,516.2 456.0,515.6 458.5,514.8 461.0,514.0 463.4,513.0 465.9,511.9 468.4,510.8 470.9,509.5 473.4,508.2 475.9,506.7 478.3,505.2 480.8,503.5 483.3,501.8 485.8,500.0 488.3,498.1 490.7,496.1 493.2,494.0 495.7,491.9 498.2,489.7 500.7,487.4 503.2,485.0 505.6,482.5 508.1,480.0 510.6,477.5 513.1,474.8 515.6,472.1 518.1,469.4 520.5,466.6 523.0,463.7 525.5,460.9 528.0,457.9 530.5,454.9 533.0,451.9 535.4,448.9 537.9,445.8 540.4,442.7 542.9,439.6 545.4,436.5 547.9,433.4 550.3,430.2 552.8,427.0 555.3,423.9 557.8,420.7 560.3,417.5 562.8,414.4 565.2,411.2 567.7,408.1 570.2,405.0 572.7,401.9 575.2,398.8 577.7,395.8 580.1,392.8 582.6,389.8 585.1,386.9 587.6,384.0 590.1,381.2 592.6,378.4 595.0,375.6 597.5,373.0 600.0,370.3 602.5,367.8 605.0,365.3 607.5,362.8 609.9,360.5 612.4,358.2 614.9,355.9 617.4,353.8 619.9,351.7 622.3,349.8 624.8,347.9 627.3,346.0 629.8,344.3 632.3,342.7 634.8,341.2 637.2,339.7 639.7,338.4 642.2,337.1 644.7,336.0 647.2,334.9 649.7,334.0 652.1,333.1 654.6,332.4 657.1,331.7 659.6,331.2 662.1,330.8 664.6,330.4 667.0,330.2 669.5,330.1 672.0,330.1 674.5,330.2 677.0,330.4 679.5,330.7 681.9,331.2 684.4,331.7 686.9,332.3 689.4,333.1 691.9,333.9 694.4,334.8 696.8,335.9 699.3,337.0 701.8,338.3 704.3,339.6 706.8,341.0 709.3,342.6 711.7,344.2 714.2,345.9 716.7,347.7 719.2,349.6 721.7,351.6 724.2,353.6 726.6,355.8 729.1,358.0 731.6,360.3 734.1,362.6 736.6,365.1 739.1,367.6 741.5,370.1 744.0,372.8 746.5,375.4 749.0,378.2 751.5,381.0 753.9,383.8 756.4,386.7 758.9,389.6 761.4,392.6 763.9,395.6 766.4,398.6 768.8,401.7 771.3,404.8 773.8,407.9 776.3,411.0 778.8,414.2 781.3,417.3 783.7,420.5 786.2,423.6 788.7,426.8 791.2,430.0 793.7,433.1 796.2,436.3 798.6,439.4 801.1,442.5 803.6,445.6 806.1,448.7 808.6,451.7 811.1,454.7 813.5,457.7 816.0,460.6 818.5,463.5 821.0,466.4 823.5,469.2 826.0,471.9 828.4,474.6 830.9,477.3 833.4,479.8 835.9,482.4 838.4,484.8 840.9,487.2 843.3,489.5 845.8,491.7 848.3,493.9 850.8,496.0 853.3,497.9 855.8,499.9 858.2,501.7 860.7,503.4 863.2,505.1 865.7,506.6 868.2,508.1 870.6,509.4 873.1,510.7 875.6,511.9 878.1,512.9 880.6,513.9 883.1,514.8 885.5,515.5 888.0,516.2 890.5,516.7 893.0,517.2 895.5,517.5 898.0,517.8 900.4,517.9 902.9,517.9 905.4,517.8 907.9,517.6 910.4,517.3 912.9,516.9 915.3,516.4 917.8,515.8 920.3,515.1 922.8,514.2 925.3,513.3 927.8,512.3 930.2,511.2 932.7,509.9 935.2,508.6 937.7,507.2 940.2,505.7 942.7,504.1 945.1,502.4 947.6,500.6 950.1,498.7 952.6,496.7 955.1,494.7 957.6,492.6 960.0,490.4 962.5,488.1 965.0,485.7 967.5,483.3 970.0,480.8 972.5,478.3 974.9,475.6 977.4,473.0 979.9,470.2 982.4,467.5 984.9,464.6 987.4,461.8 989.8,458.8 992.3,455.9 994.8,452.9 997.3,449.8 999.8,446.8 1002.2,443.7 1004.7,440.6 1007.2,437.5 1009.7,434.3 1012.2,431.2 1014.7,428.0 1017.1,424.9 1019.6,421.7 1022.1,418.5 1024.6,415.4 1027.1,412.2 1029.6,409.1 1032.0,406.0 1034.5,402.9 1037.0,399.8 1039.5,396.7 1042.0,393.7 1044.5,390.8 1046.9,387.8 1049.4,384.9 1051.9,382.1 1054.4,379.2 1056.9,376.5 1059.4,373.8 1061.8,371.1 1064.3,368.5 1066.8,366.0 1069.3,363.6 1071.8,361.2 1074.3,358.9 1076.7,356.6 1079.2,354.4 1081.7,352.4 1084.2,350.4 1086.7,348.4 1089.2,346.6 1091.6,344.8 1094.1,343.2 1096.6,341.6 1099.1,340.1 1101.6,338.8 1104.1,337.5 1106.5,336.3 1109.0,335.2 1111.5,334.2 1114.0,333.4 1116.5,332.6 1118.9,331.9 1121.4,331.3 1123.9,330.9 1126.4,330.5 1128.9,330.3 1131.4,330.1 1133.8,330.1 1136.3,330.2 1138.8,330.3 1141.3,330.6 1143.8,331.0 1146.3,331.5 1148.7,332.1 1151.2,332.8 1153.7,333.6 1156.2,334.5 1158.7,335.5 1161.2,336.7 1163.6,337.9 1166.1,339.2 1168.6,340.6 1171.1,342.1 1173.6,343.7 1176.1,345.4 1178.5,347.2 1181.0,349.0 1183.5,351.0 1186.0,353.0 1188.5,355.1 1191.0,357.3 1193.4,359.6 1195.9,361.9 1198.4,364.3 1200.9,366.8 1203.4,369.3 1205.9,371.9 1208.3,374.6 1210.8,377.3 1213.3,380.1 1215.8,382.9 1218.3,385.8 1220.8,388.7 1223.2,391.7 1225.7,394.7 1228.2,397.7 1230.7,400.7 1233.2,403.8 1235.7,406.9 1238.1,410.0 1240.6,413.2 1243.1,416.3 1245.6,419.5 1248.1,422.7 1250.5,425.8 1253.0,429.0 1255.5,432.1 1258.0,435.3 1260.5,438.4 1263.0,441.6 1265.4,444.7 1267.9,447.7 1270.4,450.8 1272.9,453.8 1275.4,456.8 1277.9,459.7 1280.3,462.6 1282.8,465.5 1285.3,468.3 1287.8,471.1 1290.3,473.8 1292.8,476.5 1295.2,479.1 1297.7,481.6 1300.2,484.1 1302.7,486.5 1305.2,488.8 1307.7,491.0 1310.1,493.2 1312.6,495.3 1315.1,497.3 1317.6,499.3 1320.1,501.1 1322.6,502.9 1325.0,504.6 1327.5,506.1 1330.0,507.6 1332.5,509.0 1335.0,510.3 1337.5,511.5 1339.9,512.6 1342.4,513.6 1344.9,514.5 1347.4,515.3 1349.9,516.0 1352.4,516.6 1354.8,517.0 1357.3,517.4 1359.8,517.7 1362.3,517.8 1364.8,517.9 1367.3,517.8 1369.7,517.7 1372.2,517.4 1374.7,517.1 1377.2,516.6 1379.7,516.0 1382.1,515.3 1384.6,514.5 1387.1,513.6 1389.6,512.6 1392.1,511.5 1394.6,510.3 1397.0,509.0 1399.5,507.6 1402.0,506.1 1404.5,504.6 1407.0,502.9 1409.5,501.1 1411.9,499.3 1414.4,497.3 1416.9,495.3 1419.4,493.2 1421.9,491.0 1424.4,488.8 1426.8,486.5 1429.3,484.1 1431.8,481.6 1434.3,479.1 1436.8,476.5 1439.3,473.8 1441.7,471.1 1444.2,468.3 1446.7,465.5 1449.2,462.6 1451.7,459.7 1454.2,456.8 1456.6,453.8 1459.1,450.8 1461.6,447.7 1464.1,444.7 1466.6,441.6 1469.1,438.4 1471.5,435.3 1474.0,432.2 1476.5,429.0 1479.0,425.8 1481.5,422.7 1484.0,419.5 1486.4,416.3 1488.9,413.2 1491.4,410.0 1493.9,406.9 1496.4,403.8 1498.8,400.7 1501.3,397.7 1503.8,394.7 1506.3,391.7 1508.8,388.7 1511.3,385.8 1513.7,382.9 1516.2,380.1 1518.7,377.3 1521.2,374.6 1523.7,371.9 1526.2,369.3 1528.6,366.8 1531.1,364.3 1533.6,361.9 1536.1,359.6 1538.6,357.3 1541.1,355.1 1543.5,353.0 1546.0,351.0 1548.5,349.0 1551.0,347.2 1553.5,345.4 1556.0,343.7 1558.4,342.1 1560.9,340.6 1563.4,339.2 1565.9,337.9 1568.4,336.7 1570.9,335.6 1573.3,334.5 1575.8,333.6 1578.3,332.8 1580.8,332.1 1583.3,331.5 1585.8,331.0 1588.2,330.6 1590.7,330.3 1593.2,330.2 1595.7,330.1 1598.2,330.1 1600.7,330.3 1603.1,330.5 1605.6,330.9 1608.1,331.3 1610.6,331.9 1613.1,332.6 1615.6,333.4 1618.0,334.2 1620.5,335.2 1623.0,336.3"/>
</g></g>
<g filter="url(#soft)">
<text class="tk" transform="translate(219.80,67.50) scale(0.9800,1)" text-anchor="end">0.40</text>
<text class="tk" transform="translate(219.80,256.25) scale(0.9800,1)" text-anchor="end">0.20</text>
<text class="tk" transform="translate(219.80,445.00) scale(0.9800,1)" text-anchor="end">0.00</text>
<text class="tk" transform="translate(219.80,633.75) scale(0.9800,1)" text-anchor="end">-0.20</text>
<text class="tk" transform="translate(219.80,822.50) scale(0.9800,1)" text-anchor="end">-0.40</text>
<text class="tk" transform="translate(237.80,875.40) scale(0.9800,1)" text-anchor="middle">0.0</text>
<text class="tk" transform="translate(697.47,875.40) scale(0.9800,1)" text-anchor="middle">2.0</text>
<text class="tk" transform="translate(1157.13,875.40) scale(0.9800,1)" text-anchor="middle">4.0</text>
<text class="tk" transform="translate(1616.80,875.40) scale(0.9800,1)" text-anchor="middle">6.0</text>
<text class="lb" transform="translate(928.60,949.00) scale(1.0060,1)" text-anchor="middle">Time (sec)</text>
<text class="lb" transform="translate(76.00,426.00) scale(1.0000,1) rotate(-90)" text-anchor="middle">Vertical Displacement (m)</text>
</g>
<rect x="269.5" y="78.0" width="952.8" height="133.8" fill="#fff"/>
<rect x="1222.3" y="78.0" width="2.7" height="133.8" fill="#eeeeee"/>
<rect x="272.2" y="78.0" width="2.8" height="133.8" fill="#c6c6c6"/>
<rect x="269.5" y="75.0" width="952.8" height="3.0" fill="#c4c4c4"/>
<rect x="269.5" y="206.1" width="952.8" height="2.9" fill="#b4b4b4"/>
<rect x="269.5" y="209.0" width="952.8" height="2.8" fill="#6c6c6c"/>
<rect x="269.5" y="78.0" width="952.8" height="2.6" fill="#6a6a6a"/>
<rect x="269.5" y="78.0" width="2.7" height="133.8" fill="#4a4a4a"/>
<rect x="1219.6" y="78.0" width="2.7" height="133.8" fill="#3c3c3c"/>
<g filter="url(#soft)">
<line x1="283.5" y1="114.1" x2="402.5" y2="114.1" stroke="#0000ff" stroke-width="5.6"/>
<text class="lg" transform="translate(410.80,132.50) scale(0.9570,1)" text-anchor="start">Eq</text>
<line x1="592.0" y1="114.1" x2="711.0" y2="114.1" stroke="#000000" stroke-width="5.6"/>
<text class="lg" transform="translate(718.40,132.50) scale(0.9570,1)" text-anchor="start">Sq</text>
<line x1="283.5" y1="174.1" x2="402.5" y2="174.1" stroke="#ff0000" stroke-width="5.6"/>
<text class="lg" transform="translate(410.80,192.50) scale(0.9570,1)" text-anchor="start">Eq + Sq</text>
<line x1="592.0" y1="174.1" x2="711.0" y2="174.1" stroke="#ff00ff" stroke-width="5.6"/>
<text class="lg" transform="translate(718.40,192.50) scale(0.9570,1)" text-anchor="start">Seismic excitation</text>
<text class="mx" x="1104.4" y="194.2">×</text>
<text class="lg" transform="translate(1157.90,192.50) scale(0.9570,1)" text-anchor="start">10</text>
</g>
</g>
<g transform="translate(0,1223)">
<line class="gr" style="stroke:#e2e2e2;stroke-width:1.8" x1="239.0" y1="238.10" x2="1618.0" y2="238.10" stroke-dashoffset="27.79"/>
<line class="gr" style="stroke:#060606;stroke-width:3.1" x1="239.0" y1="235.10" x2="1618.0" y2="235.10" stroke-dashoffset="27.79"/>
<line class="gr" style="stroke:#d4d4d4;stroke-width:2.6" x1="239.0" y1="427.10" x2="1618.0" y2="427.10" stroke-dashoffset="27.79"/>
<line class="gr" style="stroke:#060606;stroke-width:3" x1="239.0" y1="424.00" x2="1618.0" y2="424.00" stroke-dashoffset="27.79"/>
<line class="gr" style="stroke:#c0c0c0;stroke-width:2.5" x1="239.0" y1="614.75" x2="1618.0" y2="614.75" stroke-dashoffset="27.79"/>
<line class="gr" style="stroke:#636363;stroke-width:2.8" x1="239.0" y1="612.10" x2="1618.0" y2="612.10" stroke-dashoffset="27.79"/>
<line class="gr" style="stroke:#c4c4c4;stroke-width:2.8" x1="696.62" y1="46.5" x2="696.62" y2="801.5" stroke-dashoffset="36.29"/>
<line class="gr" style="stroke:#363636;stroke-width:3" x1="699.57" y1="46.5" x2="699.57" y2="801.5" stroke-dashoffset="36.29"/>
<line class="gr" style="stroke:#e0e0e0;stroke-width:2.4" x1="1161.23" y1="46.5" x2="1161.23" y2="801.5" stroke-dashoffset="36.29"/>
<line class="gr" style="stroke:#363636;stroke-width:3" x1="1158.13" y1="46.5" x2="1158.13" y2="801.5" stroke-dashoffset="36.29"/>
<rect x="237" y="42.2" width="1384" height="2.8" fill="#c4c4c4"/>
<rect x="237" y="45" width="1384" height="3" fill="#1c1c1c"/>
<rect x="237" y="799.2" width="1384" height="2.8" fill="#dedede"/>
<rect x="237" y="802" width="1384" height="2.7" fill="#707070"/>
<rect x="239.8" y="48" width="2.2" height="751" fill="#c8c8c8"/>
<rect x="237" y="45" width="2.8" height="759.7" fill="#2a2a2a"/>
<rect x="1615.5" y="45" width="5.3" height="759.7" fill="#5c5c5c"/>
<line x1="240.5" y1="238.10" x2="253.0" y2="238.10" stroke="#e2e2e2" stroke-width="1.8"/>
<line x1="1604.0" y1="238.10" x2="1616.0" y2="238.10" stroke="#e2e2e2" stroke-width="1.8"/>
<line x1="240.5" y1="235.10" x2="253.0" y2="235.10" stroke="#060606" stroke-width="3.1"/>
<line x1="1604.0" y1="235.10" x2="1616.0" y2="235.10" stroke="#060606" stroke-width="3.1"/>
<line x1="240.5" y1="427.10" x2="253.0" y2="427.10" stroke="#d4d4d4" stroke-width="2.6"/>
<line x1="1604.0" y1="427.10" x2="1616.0" y2="427.10" stroke="#d4d4d4" stroke-width="2.6"/>
<line x1="240.5" y1="424.00" x2="253.0" y2="424.00" stroke="#060606" stroke-width="3"/>
<line x1="1604.0" y1="424.00" x2="1616.0" y2="424.00" stroke="#060606" stroke-width="3"/>
<line x1="240.5" y1="614.75" x2="253.0" y2="614.75" stroke="#c0c0c0" stroke-width="2.5"/>
<line x1="1604.0" y1="614.75" x2="1616.0" y2="614.75" stroke="#c0c0c0" stroke-width="2.5"/>
<line x1="240.5" y1="612.10" x2="253.0" y2="612.10" stroke="#636363" stroke-width="2.8"/>
<line x1="1604.0" y1="612.10" x2="1616.0" y2="612.10" stroke="#636363" stroke-width="2.8"/>
<line x1="696.62" y1="48.0" x2="696.62" y2="60.5" stroke="#c4c4c4" stroke-width="2.8"/>
<line x1="696.62" y1="787.5" x2="696.62" y2="800.5" stroke="#c4c4c4" stroke-width="2.8"/>
<line x1="699.57" y1="48.0" x2="699.57" y2="60.5" stroke="#363636" stroke-width="3"/>
<line x1="699.57" y1="787.5" x2="699.57" y2="800.5" stroke="#363636" stroke-width="3"/>
<line x1="1161.23" y1="48.0" x2="1161.23" y2="60.5" stroke="#e0e0e0" stroke-width="2.4"/>
<line x1="1161.23" y1="787.5" x2="1161.23" y2="800.5" stroke="#e0e0e0" stroke-width="2.4"/>
<line x1="1158.13" y1="48.0" x2="1158.13" y2="60.5" stroke="#363636" stroke-width="3"/>
<line x1="1158.13" y1="787.5" x2="1158.13" y2="800.5" stroke="#363636" stroke-width="3"/>
<g filter="url(#soft)"><g clip-path="url(#clipbox)">
<polyline class="cv" stroke="#0000ff" points="235.0,459.9 237.5,470.9 240.0,481.9 242.4,492.8 244.9,503.5 247.4,514.0 249.9,524.3 252.4,534.5 254.9,544.3 257.3,553.9 259.8,563.1 262.3,572.1 264.8,580.6 267.3,588.8 269.8,596.6 272.2,603.9 274.7,610.8 277.2,617.3 279.7,623.2 282.2,628.6 284.7,633.5 287.1,637.9 289.6,641.8 292.1,645.0 294.6,647.8 297.1,649.9 299.6,651.5 302.0,652.5 304.5,652.9 307.0,652.7 309.5,651.9 312.0,650.5 314.5,648.6 316.9,646.1 319.4,643.0 321.9,639.3 324.4,635.2 326.9,630.4 329.4,625.2 331.8,619.4 334.3,613.2 336.8,606.4 339.3,599.2 341.8,591.6 344.3,583.6 346.7,575.1 349.2,566.3 351.7,557.2 354.2,547.7 356.7,538.0 359.2,527.9 361.6,517.7 364.1,507.2 366.6,496.5 369.1,485.7 371.6,474.8 374.0,463.8 376.5,452.7 379.0,441.6 381.5,430.5 384.0,419.5 386.5,408.5 388.9,397.6 391.4,386.8 393.9,376.2 396.4,365.8 398.9,355.6 401.4,345.6 403.8,335.9 406.3,326.5 408.8,317.4 411.3,308.7 413.8,300.4 416.3,292.4 418.7,284.9 421.2,277.8 423.7,271.2 426.2,265.0 428.7,259.4 431.2,254.2 433.6,249.6 436.1,245.5 438.6,242.0 441.1,239.1 443.6,236.7 446.1,234.9 448.5,233.6 451.0,233.0 453.5,232.9 456.0,233.5 458.5,234.6 461.0,236.3 463.4,238.5 465.9,241.4 468.4,244.8 470.9,248.7 473.4,253.3 475.9,258.3 478.3,263.8 480.8,269.9 483.3,276.4 485.8,283.4 488.3,290.8 490.7,298.7 493.2,307.0 495.7,315.6 498.2,324.6 500.7,334.0 503.2,343.6 505.6,353.5 508.1,363.7 510.6,374.1 513.1,384.7 515.6,395.4 518.1,406.3 520.5,417.2 523.0,428.3 525.5,439.4 528.0,450.5 530.5,461.6 533.0,472.6 535.4,483.5 537.9,494.4 540.4,505.0 542.9,515.6 545.4,525.9 547.9,535.9 550.3,545.8 552.8,555.3 555.3,564.5 557.8,573.4 560.3,581.9 562.8,590.0 565.2,597.7 567.7,605.0 570.2,611.8 572.7,618.2 575.2,624.0 577.7,629.4 580.1,634.2 582.6,638.5 585.1,642.3 587.6,645.5 590.1,648.1 592.6,650.2 595.0,651.7 597.5,652.6 600.0,652.9 602.5,652.6 605.0,651.7 607.5,650.3 609.9,648.2 612.4,645.6 614.9,642.5 617.4,638.8 619.9,634.5 622.3,629.7 624.8,624.3 627.3,618.5 629.8,612.2 632.3,605.4 634.8,598.1 637.2,590.4 639.7,582.3 642.2,573.8 644.7,565.0 647.2,555.8 649.7,546.3 652.1,536.5 654.6,526.4 657.1,516.1 659.6,505.6 662.1,494.9 664.6,484.1 667.0,473.2 669.5,462.2 672.0,451.1 674.5,440.0 677.0,428.9 679.5,417.8 681.9,406.9 684.4,396.0 686.9,385.2 689.4,374.6 691.9,364.2 694.4,354.1 696.8,344.1 699.3,334.5 701.8,325.1 704.3,316.1 706.8,307.4 709.3,299.1 711.7,291.3 714.2,283.8 716.7,276.8 719.2,270.2 721.7,264.1 724.2,258.6 726.6,253.5 729.1,249.0 731.6,245.0 734.1,241.6 736.6,238.7 739.1,236.4 741.5,234.7 744.0,233.5 746.5,233.0 749.0,233.0 751.5,233.6 753.9,234.8 756.4,236.6 758.9,238.9 761.4,241.9 763.9,245.3 766.4,249.4 768.8,254.0 771.3,259.1 773.8,264.7 776.3,270.8 778.8,277.4 781.3,284.5 783.7,292.0 786.2,299.9 788.7,308.2 791.2,317.0 793.7,326.0 796.2,335.4 798.6,345.1 801.1,355.0 803.6,365.2 806.1,375.6 808.6,386.3 811.1,397.0 813.5,407.9 816.0,418.9 818.5,430.0 821.0,441.0 823.5,452.1 826.0,463.2 828.4,474.2 830.9,485.2 833.4,496.0 835.9,506.6 838.4,517.1 840.9,527.4 843.3,537.4 845.8,547.2 848.3,556.7 850.8,565.9 853.3,574.7 855.8,583.1 858.2,591.2 860.7,598.8 863.2,606.1 865.7,612.8 868.2,619.1 870.6,624.9 873.1,630.2 875.6,634.9 878.1,639.1 880.6,642.8 883.1,645.9 885.5,648.5 888.0,650.4 890.5,651.8 893.0,652.6 895.5,652.9 898.0,652.5 900.4,651.5 902.9,650.0 905.4,647.9 907.9,645.2 910.4,642.0 912.9,638.1 915.3,633.8 917.8,628.9 920.3,623.5 922.8,617.6 925.3,611.2 927.8,604.3 930.2,597.0 932.7,589.2 935.2,581.1 937.7,572.5 940.2,563.6 942.7,554.4 945.1,544.8 947.6,535.0 950.1,524.9 952.6,514.6 955.1,504.0 957.6,493.3 960.0,482.5 962.5,471.5 965.0,460.5 967.5,449.4 970.0,438.3 972.5,427.2 974.9,416.2 977.4,405.2 979.9,394.4 982.4,383.6 984.9,373.1 987.4,362.7 989.8,352.6 992.3,342.7 994.8,333.1 997.3,323.8 999.8,314.8 1002.2,306.2 1004.7,297.9 1007.2,290.1 1009.7,282.7 1012.2,275.8 1014.7,269.3 1017.1,263.3 1019.6,257.8 1022.1,252.8 1024.6,248.3 1027.1,244.4 1029.6,241.1 1032.0,238.3 1034.5,236.1 1037.0,234.4 1039.5,233.4 1042.0,232.9 1044.5,233.0 1046.9,233.7 1049.4,235.0 1051.9,236.9 1054.4,239.3 1056.9,242.3 1059.4,245.9 1061.8,250.0 1064.3,254.7 1066.8,259.9 1069.3,265.6 1071.8,271.8 1074.3,278.5 1076.7,285.6 1079.2,293.2 1081.7,301.1 1084.2,309.5 1086.7,318.3 1089.2,327.4 1091.6,336.8 1094.1,346.5 1096.6,356.5 1099.1,366.8 1101.6,377.2 1104.1,387.9 1106.5,398.6 1109.0,409.5 1111.5,420.6 1114.0,431.6 1116.5,442.7 1118.9,453.8 1121.4,464.9 1123.9,475.9 1126.4,486.8 1128.9,497.6 1131.4,508.2 1133.8,518.7 1136.3,528.9 1138.8,538.9 1141.3,548.6 1143.8,558.1 1146.3,567.2 1148.7,576.0 1151.2,584.4 1153.7,592.4 1156.2,599.9 1158.7,607.1 1161.2,613.8 1163.6,620.0 1166.1,625.7 1168.6,630.9 1171.1,635.6 1173.6,639.7 1176.1,643.3 1178.5,646.3 1181.0,648.8 1183.5,650.7 1186.0,652.0 1188.5,652.7 1191.0,652.8 1193.4,652.4 1195.9,651.3 1198.4,649.7 1200.9,647.5 1203.4,644.8 1205.9,641.4 1208.3,637.5 1210.8,633.1 1213.3,628.1 1215.8,622.6 1218.3,616.7 1220.8,610.2 1223.2,603.3 1225.7,595.9 1228.2,588.1 1230.7,579.8 1233.2,571.2 1235.7,562.3 1238.1,553.0 1240.6,543.4 1243.1,533.5 1245.6,523.4 1248.1,513.0 1250.5,502.4 1253.0,491.7 1255.5,480.9 1258.0,469.9 1260.5,458.8 1263.0,447.8 1265.4,436.7 1267.9,425.6 1270.4,414.5 1272.9,403.6 1275.4,392.7 1277.9,382.0 1280.3,371.5 1282.8,361.2 1285.3,351.1 1287.8,341.2 1290.3,331.6 1292.8,322.4 1295.2,313.5 1297.7,304.9 1300.2,296.7 1302.7,289.0 1305.2,281.6 1307.7,274.8 1310.1,268.3 1312.6,262.4 1315.1,257.0 1317.6,252.1 1320.1,247.7 1322.6,243.9 1325.0,240.6 1327.5,237.9 1330.0,235.8 1332.5,234.2 1335.0,233.3 1337.5,232.9 1339.9,233.1 1342.4,233.9 1344.9,235.3 1347.4,237.2 1349.9,239.7 1352.4,242.8 1354.8,246.5 1357.3,250.7 1359.8,255.4 1362.3,260.7 1364.8,266.5 1367.3,272.7 1369.7,279.5 1372.2,286.7 1374.7,294.3 1377.2,302.4 1379.7,310.8 1382.1,319.6 1384.6,328.8 1387.1,338.3 1389.6,348.0 1392.1,358.1 1394.6,368.3 1397.0,378.8 1399.5,389.5 1402.0,400.3 1404.5,411.2 1407.0,422.2 1409.5,433.3 1411.9,444.4 1414.4,455.5 1416.9,466.5 1419.4,477.5 1421.9,488.4 1424.4,499.2 1426.8,509.8 1429.3,520.2 1431.8,530.4 1434.3,540.4 1436.8,550.1 1439.3,559.5 1441.7,568.5 1444.2,577.2 1446.7,585.6 1449.2,593.5 1451.7,601.0 1454.2,608.1 1456.6,614.7 1459.1,620.9 1461.6,626.5 1464.1,631.6 1466.6,636.2 1469.1,640.3 1471.5,643.8 1474.0,646.7 1476.5,649.1 1479.0,650.9 1481.5,652.1 1484.0,652.8 1486.4,652.8 1488.9,652.3 1491.4,651.1 1493.9,649.4 1496.4,647.1 1498.8,644.3 1501.3,640.9 1503.8,636.9 1506.3,632.4 1508.8,627.3 1511.3,621.8 1513.7,615.7 1516.2,609.2 1518.7,602.2 1521.2,594.7 1523.7,586.8 1526.2,578.6 1528.6,569.9 1531.1,560.9 1533.6,551.6 1536.1,541.9 1538.6,532.0 1541.1,521.8 1543.5,511.4 1546.0,500.8 1548.5,490.1 1551.0,479.2 1553.5,468.2 1556.0,457.2 1558.4,446.1 1560.9,435.0 1563.4,423.9 1565.9,412.9 1568.4,402.0 1570.9,391.1 1573.3,380.4 1575.8,369.9 1578.3,359.6 1580.8,349.6 1583.3,339.8 1585.8,330.2 1588.2,321.0 1590.7,312.2 1593.2,303.7 1595.7,295.5 1598.2,287.8 1600.7,280.6 1603.1,273.8 1605.6,267.4 1608.1,261.6 1610.6,256.2 1613.1,251.4 1615.6,247.1 1618.0,243.4 1620.5,240.2 1623.0,237.6"/>
<polyline class="cv" stroke="#ff0000" points="235.0,359.9 237.5,358.8 240.0,357.9 242.4,357.2 244.9,356.6 247.4,356.2 249.9,356.1 252.4,356.1 254.9,356.3 257.3,356.7 259.8,357.3 262.3,358.1 264.8,359.0 267.3,360.2 269.8,361.5 272.2,363.0 274.7,364.7 277.2,366.6 279.7,368.6 282.2,370.7 284.7,373.1 287.1,375.5 289.6,378.1 292.1,380.9 294.6,383.7 297.1,386.7 299.6,389.8 302.0,392.9 304.5,396.2 307.0,399.5 309.5,402.9 312.0,406.4 314.5,409.9 316.9,413.5 319.4,417.1 321.9,420.7 324.4,424.4 326.9,428.0 329.4,431.6 331.8,435.2 334.3,438.8 336.8,442.3 339.3,445.8 341.8,449.2 344.3,452.6 346.7,455.9 349.2,459.1 351.7,462.2 354.2,465.2 356.7,468.0 359.2,470.8 361.6,473.4 364.1,475.9 366.6,478.3 369.1,480.5 371.6,482.5 374.0,484.4 376.5,486.1 379.0,487.7 381.5,489.0 384.0,490.2 386.5,491.2 388.9,492.1 391.4,492.7 393.9,493.1 396.4,493.4 398.9,493.5 401.4,493.3 403.8,493.0 406.3,492.5 408.8,491.8 411.3,490.9 413.8,489.8 416.3,488.6 418.7,487.1 421.2,485.5 423.7,483.8 426.2,481.8 428.7,479.7 431.2,477.4 433.6,475.0 436.1,472.5 438.6,469.8 441.1,467.0 443.6,464.1 446.1,461.1 448.5,457.9 451.0,454.7 453.5,451.4 456.0,448.0 458.5,444.6 461.0,441.1 463.4,437.5 465.9,433.9 468.4,430.3 470.9,426.7 473.4,423.1 475.9,419.4 478.3,415.8 480.8,412.2 483.3,408.7 485.8,405.2 488.3,401.7 490.7,398.3 493.2,395.0 495.7,391.8 498.2,388.7 500.7,385.6 503.2,382.7 505.6,379.9 508.1,377.2 510.6,374.6 513.1,372.2 515.6,370.0 518.1,367.8 520.5,365.9 523.0,364.1 525.5,362.5 528.0,361.0 530.5,359.8 533.0,358.7 535.4,357.8 537.9,357.1 540.4,356.5 542.9,356.2 545.4,356.1 547.9,356.1 550.3,356.3 552.8,356.8 555.3,357.4 557.8,358.2 560.3,359.2 562.8,360.4 565.2,361.7 567.7,363.3 570.2,365.0 572.7,366.9 575.2,368.9 577.7,371.1 580.1,373.4 582.6,375.9 585.1,378.5 587.6,381.3 590.1,384.2 592.6,387.1 595.0,390.2 597.5,393.4 600.0,396.7 602.5,400.0 605.0,403.5 607.5,406.9 609.9,410.5 612.4,414.0 614.9,417.7 617.4,421.3 619.9,424.9 622.3,428.5 624.8,432.2 627.3,435.8 629.8,439.3 632.3,442.8 634.8,446.3 637.2,449.7 639.7,453.1 642.2,456.4 644.7,459.5 647.2,462.6 649.7,465.6 652.1,468.5 654.6,471.2 657.1,473.8 659.6,476.3 662.1,478.6 664.6,480.8 667.0,482.8 669.5,484.7 672.0,486.4 674.5,487.9 677.0,489.2 679.5,490.4 681.9,491.4 684.4,492.2 686.9,492.8 689.4,493.2 691.9,493.4 694.4,493.4 696.8,493.3 699.3,492.9 701.8,492.4 704.3,491.7 706.8,490.8 709.3,489.7 711.7,488.4 714.2,486.9 716.7,485.3 719.2,483.5 721.7,481.5 724.2,479.4 726.6,477.1 729.1,474.7 731.6,472.1 734.1,469.4 736.6,466.6 739.1,463.7 741.5,460.6 744.0,457.5 746.5,454.2 749.0,450.9 751.5,447.5 753.9,444.0 756.4,440.5 758.9,437.0 761.4,433.4 763.9,429.8 766.4,426.2 768.8,422.5 771.3,418.9 773.8,415.3 776.3,411.7 778.8,408.2 781.3,404.7 783.7,401.2 786.2,397.8 788.7,394.5 791.2,391.3 793.7,388.2 796.2,385.2 798.6,382.3 801.1,379.5 803.6,376.8 806.1,374.3 808.6,371.9 811.1,369.6 813.5,367.5 816.0,365.6 818.5,363.8 821.0,362.2 823.5,360.8 826.0,359.6 828.4,358.5 830.9,357.7 833.4,357.0 835.9,356.5 838.4,356.2 840.9,356.1 843.3,356.1 845.8,356.4 848.3,356.9 850.8,357.5 853.3,358.3 855.8,359.4 858.2,360.6 860.7,362.0 863.2,363.5 865.7,365.3 868.2,367.2 870.6,369.2 873.1,371.4 875.6,373.8 878.1,376.3 880.6,378.9 883.1,381.7 885.5,384.6 888.0,387.6 890.5,390.7 893.0,393.9 895.5,397.2 898.0,400.6 900.4,404.0 902.9,407.5 905.4,411.0 907.9,414.6 910.4,418.2 912.9,421.8 915.3,425.4 917.8,429.1 920.3,432.7 922.8,436.3 925.3,439.9 927.8,443.4 930.2,446.8 932.7,450.2 935.2,453.6 937.7,456.8 940.2,460.0 942.7,463.1 945.1,466.0 947.6,468.9 950.1,471.6 952.6,474.2 955.1,476.6 957.6,478.9 960.0,481.1 962.5,483.1 965.0,484.9 967.5,486.6 970.0,488.1 972.5,489.4 974.9,490.6 977.4,491.5 979.9,492.3 982.4,492.9 984.9,493.2 987.4,493.4 989.8,493.4 992.3,493.3 994.8,492.9 997.3,492.3 999.8,491.5 1002.2,490.6 1004.7,489.5 1007.2,488.2 1009.7,486.7 1012.2,485.0 1014.7,483.2 1017.1,481.2 1019.6,479.0 1022.1,476.7 1024.6,474.3 1027.1,471.7 1029.6,469.0 1032.0,466.2 1034.5,463.2 1037.0,460.1 1039.5,457.0 1042.0,453.7 1044.5,450.4 1046.9,447.0 1049.4,443.5 1051.9,440.0 1054.4,436.4 1056.9,432.9 1059.4,429.2 1061.8,425.6 1064.3,422.0 1066.8,418.4 1069.3,414.7 1071.8,411.2 1074.3,407.6 1076.7,404.1 1079.2,400.7 1081.7,397.3 1084.2,394.0 1086.7,390.8 1089.2,387.7 1091.6,384.7 1094.1,381.8 1096.6,379.1 1099.1,376.4 1101.6,373.9 1104.1,371.5 1106.5,369.3 1109.0,367.2 1111.5,365.3 1114.0,363.6 1116.5,362.0 1118.9,360.6 1121.4,359.4 1123.9,358.4 1126.4,357.5 1128.9,356.9 1131.4,356.4 1133.8,356.1 1136.3,356.1 1138.8,356.2 1141.3,356.5 1143.8,356.9 1146.3,357.6 1148.7,358.5 1151.2,359.5 1153.7,360.8 1156.2,362.2 1158.7,363.8 1161.2,365.5 1163.6,367.4 1166.1,369.5 1168.6,371.8 1171.1,374.2 1173.6,376.7 1176.1,379.3 1178.5,382.1 1181.0,385.0 1183.5,388.1 1186.0,391.2 1188.5,394.4 1191.0,397.7 1193.4,401.1 1195.9,404.5 1198.4,408.0 1200.9,411.5 1203.4,415.1 1205.9,418.7 1208.3,422.4 1210.8,426.0 1213.3,429.6 1215.8,433.2 1218.3,436.8 1220.8,440.4 1223.2,443.9 1225.7,447.4 1228.2,450.8 1230.7,454.1 1233.2,457.3 1235.7,460.5 1238.1,463.5 1240.6,466.5 1243.1,469.3 1245.6,472.0 1248.1,474.6 1250.5,477.0 1253.0,479.3 1255.5,481.4 1258.0,483.4 1260.5,485.2 1263.0,486.8 1265.4,488.3 1267.9,489.6 1270.4,490.7 1272.9,491.6 1275.4,492.4 1277.9,492.9 1280.3,493.3 1282.8,493.4 1285.3,493.4 1287.8,493.2 1290.3,492.8 1292.8,492.2 1295.2,491.4 1297.7,490.4 1300.2,489.3 1302.7,487.9 1305.2,486.4 1307.7,484.8 1310.1,482.9 1312.6,480.9 1315.1,478.7 1317.6,476.4 1320.1,473.9 1322.6,471.3 1325.0,468.6 1327.5,465.7 1330.0,462.8 1332.5,459.7 1335.0,456.5 1337.5,453.2 1339.9,449.9 1342.4,446.5 1344.9,443.0 1347.4,439.5 1349.9,435.9 1352.4,432.3 1354.8,428.7 1357.3,425.1 1359.8,421.4 1362.3,417.8 1364.8,414.2 1367.3,410.6 1369.7,407.1 1372.2,403.6 1374.7,400.2 1377.2,396.8 1379.7,393.6 1382.1,390.4 1384.6,387.3 1387.1,384.3 1389.6,381.4 1392.1,378.7 1394.6,376.0 1397.0,373.5 1399.5,371.2 1402.0,369.0 1404.5,366.9 1407.0,365.1 1409.5,363.3 1411.9,361.8 1414.4,360.4 1416.9,359.3 1419.4,358.2 1421.9,357.4 1424.4,356.8 1426.8,356.4 1429.3,356.1 1431.8,356.1 1434.3,356.2 1436.8,356.5 1439.3,357.0 1441.7,357.7 1444.2,358.6 1446.7,359.7 1449.2,361.0 1451.7,362.4 1454.2,364.0 1456.6,365.8 1459.1,367.8 1461.6,369.9 1464.1,372.1 1466.6,374.5 1469.1,377.1 1471.5,379.8 1474.0,382.6 1476.5,385.5 1479.0,388.5 1481.5,391.6 1484.0,394.9 1486.4,398.2 1488.9,401.6 1491.4,405.0 1493.9,408.5 1496.4,412.1 1498.8,415.7 1501.3,419.3 1503.8,422.9 1506.3,426.5 1508.8,430.2 1511.3,433.8 1513.7,437.4 1516.2,440.9 1518.7,444.4 1521.2,447.9 1523.7,451.3 1526.2,454.6 1528.6,457.8 1531.1,460.9 1533.6,464.0 1536.1,466.9 1538.6,469.7 1541.1,472.4 1543.5,474.9 1546.0,477.3 1548.5,479.6 1551.0,481.7 1553.5,483.7 1556.0,485.5 1558.4,487.1 1560.9,488.5 1563.4,489.8 1565.9,490.9 1568.4,491.8 1570.9,492.5 1573.3,493.0 1575.8,493.3 1578.3,493.5 1580.8,493.4 1583.3,493.2 1585.8,492.7 1588.2,492.1 1590.7,491.3 1593.2,490.3 1595.7,489.1 1598.2,487.7 1600.7,486.2 1603.1,484.5 1605.6,482.6 1608.1,480.6 1610.6,478.4 1613.1,476.0 1615.6,473.5 1618.0,470.9 1620.5,468.2 1623.0,465.3"/>
<polyline class="cv" stroke="#000000" points="235.0,426.3 237.5,414.8 240.0,403.3 242.4,392.0 244.9,380.8 247.4,369.8 249.9,359.0 252.4,348.5 254.9,338.2 257.3,328.3 259.8,318.7 262.3,309.4 264.8,300.5 267.3,292.1 269.8,284.0 272.2,276.5 274.7,269.4 277.2,262.8 279.7,256.7 282.2,251.1 284.7,246.1 287.1,241.7 289.6,237.8 292.1,234.6 294.6,231.9 297.1,229.8 299.6,228.3 302.0,227.5 304.5,227.2 307.0,227.6 309.5,228.6 312.0,230.2 314.5,232.4 316.9,235.2 319.4,238.6 321.9,242.6 324.4,247.1 326.9,252.2 329.4,257.9 331.8,264.1 334.3,270.8 336.8,278.0 339.3,285.6 341.8,293.7 344.3,302.3 346.7,311.2 349.2,320.6 351.7,330.3 354.2,340.3 356.7,350.6 359.2,361.2 361.6,372.0 364.1,383.0 366.6,394.3 369.1,405.6 371.6,417.1 374.0,428.7 376.5,440.3 379.0,451.9 381.5,463.6 384.0,475.1 386.5,486.6 388.9,498.0 391.4,509.3 393.9,520.4 396.4,531.2 398.9,541.9 401.4,552.3 403.8,562.3 406.3,572.1 408.8,581.5 411.3,590.6 413.8,599.2 416.3,607.4 418.7,615.2 421.2,622.5 423.7,629.3 426.2,635.6 428.7,641.4 431.2,646.6 433.6,651.3 436.1,655.4 438.6,658.9 441.1,661.9 443.6,664.2 446.1,665.9 448.5,667.0 451.0,667.5 453.5,667.4 456.0,666.7 458.5,665.4 461.0,663.4 463.4,660.9 465.9,657.7 468.4,654.0 470.9,649.7 473.4,644.8 475.9,639.4 478.3,633.4 480.8,627.0 483.3,620.0 485.8,612.5 488.3,604.6 490.7,596.2 493.2,587.4 495.7,578.2 498.2,568.7 500.7,558.8 503.2,548.6 505.6,538.2 508.1,527.4 510.6,516.5 513.1,505.3 515.6,494.0 518.1,482.6 520.5,471.1 523.0,459.5 525.5,447.8 528.0,436.2 530.5,424.6 533.0,413.1 535.4,401.6 537.9,390.3 540.4,379.1 542.9,368.2 545.4,357.4 547.9,346.9 550.3,336.7 552.8,326.8 555.3,317.3 557.8,308.0 560.3,299.2 562.8,290.8 565.2,282.9 567.7,275.4 570.2,268.4 572.7,261.8 575.2,255.8 577.7,250.4 580.1,245.4 582.6,241.1 585.1,237.3 587.6,234.1 590.1,231.5 592.6,229.5 595.0,228.2 597.5,227.4 600.0,227.2 602.5,227.7 605.0,228.8 607.5,230.5 609.9,232.8 612.4,235.7 614.9,239.1 617.4,243.2 619.9,247.8 622.3,253.0 624.8,258.8 627.3,265.0 629.8,271.8 632.3,279.1 634.8,286.8 637.2,295.0 639.7,303.6 642.2,312.6 644.7,322.0 647.2,331.7 649.7,341.8 652.1,352.2 654.6,362.8 657.1,373.6 659.6,384.7 662.1,396.0 664.6,407.3 667.0,418.8 669.5,430.4 672.0,442.0 674.5,453.7 677.0,465.3 679.5,476.9 681.9,488.4 684.4,499.7 686.9,511.0 689.4,522.0 691.9,532.8 694.4,543.5 696.8,553.8 699.3,563.8 701.8,573.5 704.3,582.9 706.8,591.9 709.3,600.5 711.7,608.6 714.2,616.3 716.7,623.5 719.2,630.3 721.7,636.5 724.2,642.2 726.6,647.3 729.1,651.9 731.6,656.0 734.1,659.4 736.6,662.2 739.1,664.5 741.5,666.1 744.0,667.2 746.5,667.6 749.0,667.4 751.5,666.6 753.9,665.1 756.4,663.1 758.9,660.5 761.4,657.2 763.9,653.4 766.4,649.0 768.8,644.0 771.3,638.5 773.8,632.5 776.3,625.9 778.8,618.9 781.3,611.3 783.7,603.3 786.2,594.9 788.7,586.1 791.2,576.8 793.7,567.2 796.2,557.3 798.6,547.1 801.1,536.6 803.6,525.8 806.1,514.8 808.6,503.7 811.1,492.3 813.5,480.9 816.0,469.3 818.5,457.7 821.0,446.1 823.5,434.5 826.0,422.9 828.4,411.3 830.9,399.9 833.4,388.6 835.9,377.5 838.4,366.5 840.9,355.8 843.3,345.4 845.8,335.2 848.3,325.4 850.8,315.8 853.3,306.7 855.8,298.0 858.2,289.6 860.7,281.7 863.2,274.3 865.7,267.3 868.2,260.9 870.6,255.0 873.1,249.6 875.6,244.8 878.1,240.5 880.6,236.8 883.1,233.7 885.5,231.2 888.0,229.3 890.5,228.0 893.0,227.3 895.5,227.3 898.0,227.8 900.4,229.0 902.9,230.8 905.4,233.2 907.9,236.1 910.4,239.7 912.9,243.9 915.3,248.6 917.8,253.9 920.3,259.7 922.8,266.0 925.3,272.9 927.8,280.2 930.2,288.0 932.7,296.3 935.2,304.9 937.7,314.0 940.2,323.4 942.7,333.2 945.1,343.3 947.6,353.7 950.1,364.4 952.6,375.3 955.1,386.4 957.6,397.6 960.0,409.1 962.5,420.6 965.0,432.1 967.5,443.8 970.0,455.4 972.5,467.0 974.9,478.6 977.4,490.1 979.9,501.4 982.4,512.6 984.9,523.6 987.4,534.4 989.8,545.0 992.3,555.3 994.8,565.3 997.3,575.0 999.8,584.3 1002.2,593.2 1004.7,601.7 1007.2,609.8 1009.7,617.4 1012.2,624.6 1014.7,631.2 1017.1,637.4 1019.6,643.0 1022.1,648.1 1024.6,652.6 1027.1,656.5 1029.6,659.9 1032.0,662.6 1034.5,664.8 1037.0,666.3 1039.5,667.3 1042.0,667.6 1044.5,667.3 1046.9,666.4 1049.4,664.9 1051.9,662.7 1054.4,660.0 1056.9,656.7 1059.4,652.8 1061.8,648.3 1064.3,643.3 1066.8,637.7 1069.3,631.5 1071.8,624.9 1074.3,617.8 1076.7,610.2 1079.2,602.1 1081.7,593.6 1084.2,584.7 1086.7,575.4 1089.2,565.8 1091.6,555.8 1094.1,545.5 1096.6,535.0 1099.1,524.2 1101.6,513.2 1104.1,502.0 1106.5,490.6 1109.0,479.2 1111.5,467.6 1114.0,456.0 1116.5,444.3 1118.9,432.7 1121.4,421.1 1123.9,409.6 1126.4,398.2 1128.9,386.9 1131.4,375.8 1133.8,364.9 1136.3,354.3 1138.8,343.8 1141.3,333.7 1143.8,323.9 1146.3,314.5 1148.7,305.4 1151.2,296.7 1153.7,288.4 1156.2,280.6 1158.7,273.2 1161.2,266.3 1163.6,260.0 1166.1,254.1 1168.6,248.8 1171.1,244.1 1173.6,239.9 1176.1,236.3 1178.5,233.3 1181.0,230.9 1183.5,229.1 1186.0,227.9 1188.5,227.3 1191.0,227.3 1193.4,228.0 1195.9,229.2 1198.4,231.1 1200.9,233.6 1203.4,236.6 1205.9,240.3 1208.3,244.5 1210.8,249.3 1213.3,254.7 1215.8,260.6 1218.3,267.0 1220.8,273.9 1223.2,281.3 1225.7,289.2 1228.2,297.5 1230.7,306.3 1233.2,315.4 1235.7,324.9 1238.1,334.7 1240.6,344.9 1243.1,355.3 1245.6,366.0 1248.1,376.9 1250.5,388.1 1253.0,399.3 1255.5,410.8 1258.0,422.3 1260.5,433.9 1263.0,445.5 1265.4,457.2 1267.9,468.8 1270.4,480.3 1272.9,491.8 1275.4,503.1 1277.9,514.3 1280.3,525.3 1282.8,536.0 1285.3,546.6 1287.8,556.8 1290.3,566.8 1292.8,576.4 1295.2,585.6 1297.7,594.5 1300.2,602.9 1302.7,611.0 1305.2,618.5 1307.7,625.6 1310.1,632.2 1312.6,638.3 1315.1,643.8 1317.6,648.8 1320.1,653.2 1322.6,657.0 1325.0,660.3 1327.5,663.0 1330.0,665.0 1332.5,666.5 1335.0,667.3 1337.5,667.6 1339.9,667.2 1342.4,666.2 1344.9,664.6 1347.4,662.4 1349.9,659.5 1352.4,656.1 1354.8,652.1 1357.3,647.6 1359.8,642.5 1362.3,636.8 1364.8,630.6 1367.3,623.9 1369.7,616.7 1372.2,609.0 1374.7,600.9 1377.2,592.3 1379.7,583.3 1382.1,574.0 1384.6,564.3 1387.1,554.3 1389.6,544.0 1392.1,533.4 1394.6,522.5 1397.0,511.5 1399.5,500.3 1402.0,488.9 1404.5,477.4 1407.0,465.9 1409.5,454.2 1411.9,442.6 1414.4,431.0 1416.9,419.4 1419.4,407.9 1421.9,396.5 1424.4,385.3 1426.8,374.2 1429.3,363.3 1431.8,352.7 1434.3,342.3 1436.8,332.2 1439.3,322.5 1441.7,313.1 1444.2,304.0 1446.7,295.4 1449.2,287.2 1451.7,279.4 1454.2,272.2 1456.6,265.4 1459.1,259.1 1461.6,253.3 1464.1,248.1 1466.6,243.4 1469.1,239.3 1471.5,235.8 1474.0,232.9 1476.5,230.6 1479.0,228.9 1481.5,227.7 1484.0,227.3 1486.4,227.4 1488.9,228.1 1491.4,229.5 1493.9,231.4 1496.4,234.0 1498.8,237.1 1501.3,240.9 1503.8,245.2 1506.3,250.1 1508.8,255.5 1511.3,261.5 1513.7,268.0 1516.2,275.0 1518.7,282.5 1521.2,290.4 1523.7,298.8 1526.2,307.6 1528.6,316.8 1531.1,326.3 1533.6,336.2 1536.1,346.4 1538.6,356.9 1541.1,367.6 1543.5,378.6 1546.0,389.7 1548.5,401.0 1551.0,412.5 1553.5,424.0 1556.0,435.6 1558.4,447.3 1560.9,458.9 1563.4,470.5 1565.9,482.0 1568.4,493.5 1570.9,504.8 1573.3,515.9 1575.8,526.9 1578.3,537.6 1580.8,548.1 1583.3,558.3 1585.8,568.2 1588.2,577.8 1590.7,587.0 1593.2,595.8 1595.7,604.2 1598.2,612.1 1600.7,619.6 1603.1,626.6 1605.6,633.1 1608.1,639.1 1610.6,644.6 1613.1,649.5 1615.6,653.8 1618.0,657.6 1620.5,660.7 1623.0,663.3"/>
<polyline class="cv" stroke="#ff00ff" points="235.0,333.4 237.5,334.9 240.0,336.6 242.4,338.5 244.9,340.6 247.4,343.1 249.9,345.7 252.4,348.5 254.9,351.6 257.3,354.8 259.8,358.3 262.3,361.9 264.8,365.7 267.3,369.7 269.8,373.8 272.2,378.1 274.7,382.5 277.2,387.0 279.7,391.6 282.2,396.3 284.7,401.1 287.1,405.9 289.6,410.8 292.1,415.8 294.6,420.7 297.1,425.7 299.6,430.7 302.0,435.6 304.5,440.5 307.0,445.4 309.5,450.2 312.0,454.9 314.5,459.5 316.9,464.1 319.4,468.5 321.9,472.8 324.4,477.0 326.9,481.0 329.4,484.9 331.8,488.6 334.3,492.1 336.8,495.4 339.3,498.5 341.8,501.4 344.3,504.1 346.7,506.6 349.2,508.9 351.7,510.9 354.2,512.6 356.7,514.1 359.2,515.4 361.6,516.4 364.1,517.2 366.6,517.7 369.1,517.9 371.6,517.9 374.0,517.6 376.5,517.0 379.0,516.2 381.5,515.1 384.0,513.8 386.5,512.2 388.9,510.4 391.4,508.3 393.9,506.0 396.4,503.5 398.9,500.7 401.4,497.7 403.8,494.6 406.3,491.2 408.8,487.6 411.3,483.9 413.8,480.0 416.3,475.9 418.7,471.7 421.2,467.4 423.7,462.9 426.2,458.4 428.7,453.7 431.2,448.9 433.6,444.1 436.1,439.2 438.6,434.3 441.1,429.4 443.6,424.4 446.1,419.5 448.5,414.5 451.0,409.6 453.5,404.7 456.0,399.9 458.5,395.1 461.0,390.4 463.4,385.8 465.9,381.4 468.4,377.0 470.9,372.8 473.4,368.7 475.9,364.7 478.3,361.0 480.8,357.4 483.3,354.0 485.8,350.8 488.3,347.8 490.7,345.0 493.2,342.4 495.7,340.1 498.2,338.0 500.7,336.1 503.2,334.5 505.6,333.1 508.1,332.0 510.6,331.1 513.1,330.5 515.6,330.2 518.1,330.1 520.5,330.3 523.0,330.7 525.5,331.4 528.0,332.4 530.5,333.6 533.0,335.1 535.4,336.8 537.9,338.8 540.4,341.0 542.9,343.4 545.4,346.1 547.9,349.0 550.3,352.1 552.8,355.3 555.3,358.8 557.8,362.5 560.3,366.3 562.8,370.3 565.2,374.5 567.7,378.8 570.2,383.2 572.7,387.7 575.2,392.3 577.7,397.0 580.1,401.8 582.6,406.7 585.1,411.6 587.6,416.5 590.1,421.5 592.6,426.4 595.0,431.4 597.5,436.3 600.0,441.2 602.5,446.1 605.0,450.9 607.5,455.6 609.9,460.2 612.4,464.7 614.9,469.2 617.4,473.4 619.9,477.6 622.3,481.6 624.8,485.4 627.3,489.1 629.8,492.6 632.3,495.9 634.8,499.0 637.2,501.9 639.7,504.5 642.2,507.0 644.7,509.2 647.2,511.1 649.7,512.9 652.1,514.3 654.6,515.6 657.1,516.5 659.6,517.3 662.1,517.7 664.6,517.9 667.0,517.8 669.5,517.5 672.0,516.9 674.5,516.0 677.0,514.9 679.5,513.6 681.9,511.9 684.4,510.1 686.9,508.0 689.4,505.6 691.9,503.1 694.4,500.3 696.8,497.3 699.3,494.1 701.8,490.7 704.3,487.1 706.8,483.3 709.3,479.4 711.7,475.3 714.2,471.1 716.7,466.7 719.2,462.2 721.7,457.7 724.2,453.0 726.6,448.2 729.1,443.4 731.6,438.5 734.1,433.6 736.6,428.6 739.1,423.7 741.5,418.7 744.0,413.8 746.5,408.8 749.0,404.0 751.5,399.2 753.9,394.4 756.4,389.7 758.9,385.2 761.4,380.7 763.9,376.4 766.4,372.1 768.8,368.1 771.3,364.2 773.8,360.4 776.3,356.9 778.8,353.5 781.3,350.3 783.7,347.3 786.2,344.6 788.7,342.0 791.2,339.7 793.7,337.7 796.2,335.8 798.6,334.3 801.1,332.9 803.6,331.8 806.1,331.0 808.6,330.5 811.1,330.2 813.5,330.1 816.0,330.3 818.5,330.8 821.0,331.6 823.5,332.6 826.0,333.8 828.4,335.3 830.9,337.1 833.4,339.1 835.9,341.3 838.4,343.8 840.9,346.5 843.3,349.4 845.8,352.5 848.3,355.9 850.8,359.4 853.3,363.1 855.8,366.9 858.2,370.9 860.7,375.1 863.2,379.4 865.7,383.8 868.2,388.4 870.6,393.0 873.1,397.7 875.6,402.5 878.1,407.4 880.6,412.3 883.1,417.3 885.5,422.2 888.0,427.2 890.5,432.1 893.0,437.1 895.5,442.0 898.0,446.8 900.4,451.6 902.9,456.3 905.4,460.9 907.9,465.4 910.4,469.8 912.9,474.1 915.3,478.2 917.8,482.2 920.3,486.0 922.8,489.6 925.3,493.1 927.8,496.4 930.2,499.4 932.7,502.3 935.2,504.9 937.7,507.3 940.2,509.5 942.7,511.4 945.1,513.1 947.6,514.5 950.1,515.7 952.6,516.7 955.1,517.3 957.6,517.8 960.0,517.9 962.5,517.8 965.0,517.4 967.5,516.8 970.0,515.9 972.5,514.7 974.9,513.3 977.4,511.7 979.9,509.8 982.4,507.6 984.9,505.3 987.4,502.7 989.8,499.8 992.3,496.8 994.8,493.6 997.3,490.1 999.8,486.5 1002.2,482.7 1004.7,478.8 1007.2,474.7 1009.7,470.4 1012.2,466.1 1014.7,461.6 1017.1,457.0 1019.6,452.3 1022.1,447.5 1024.6,442.7 1027.1,437.8 1029.6,432.8 1032.0,427.9 1034.5,422.9 1037.0,418.0 1039.5,413.0 1042.0,408.1 1044.5,403.2 1046.9,398.4 1049.4,393.7 1051.9,389.0 1054.4,384.5 1056.9,380.0 1059.4,375.7 1061.8,371.5 1064.3,367.5 1066.8,363.6 1069.3,359.9 1071.8,356.4 1074.3,353.0 1076.7,349.9 1079.2,346.9 1081.7,344.2 1084.2,341.7 1086.7,339.4 1089.2,337.4 1091.6,335.6 1094.1,334.0 1096.6,332.7 1099.1,331.7 1101.6,330.9 1104.1,330.4 1106.5,330.1 1109.0,330.1 1111.5,330.4 1114.0,330.9 1116.5,331.7 1118.9,332.7 1121.4,334.0 1123.9,335.6 1126.4,337.4 1128.9,339.4 1131.4,341.7 1133.8,344.2 1136.3,346.9 1138.8,349.9 1141.3,353.0 1143.8,356.4 1146.3,359.9 1148.7,363.6 1151.2,367.5 1153.7,371.6 1156.2,375.7 1158.7,380.1 1161.2,384.5 1163.6,389.1 1166.1,393.7 1168.6,398.5 1171.1,403.3 1173.6,408.1 1176.1,413.1 1178.5,418.0 1181.0,423.0 1183.5,427.9 1186.0,432.9 1188.5,437.8 1191.0,442.7 1193.4,447.5 1195.9,452.3 1198.4,457.0 1200.9,461.6 1203.4,466.1 1205.9,470.5 1208.3,474.7 1210.8,478.8 1213.3,482.8 1215.8,486.6 1218.3,490.2 1220.8,493.6 1223.2,496.8 1225.7,499.9 1228.2,502.7 1230.7,505.3 1233.2,507.6 1235.7,509.8 1238.1,511.7 1240.6,513.3 1243.1,514.7 1245.6,515.9 1248.1,516.8 1250.5,517.4 1253.0,517.8 1255.5,517.9 1258.0,517.8 1260.5,517.3 1263.0,516.7 1265.4,515.7 1267.9,514.5 1270.4,513.1 1272.9,511.4 1275.4,509.5 1277.9,507.3 1280.3,504.9 1282.8,502.3 1285.3,499.4 1287.8,496.3 1290.3,493.1 1292.8,489.6 1295.2,486.0 1297.7,482.2 1300.2,478.2 1302.7,474.1 1305.2,469.8 1307.7,465.4 1310.1,460.9 1312.6,456.3 1315.1,451.6 1317.6,446.8 1320.1,441.9 1322.6,437.0 1325.0,432.1 1327.5,427.2 1330.0,422.2 1332.5,417.2 1335.0,412.3 1337.5,407.4 1339.9,402.5 1342.4,397.7 1344.9,393.0 1347.4,388.4 1349.9,383.8 1352.4,379.4 1354.8,375.1 1357.3,370.9 1359.8,366.9 1362.3,363.0 1364.8,359.3 1367.3,355.8 1369.7,352.5 1372.2,349.4 1374.7,346.5 1377.2,343.8 1379.7,341.3 1382.1,339.1 1384.6,337.1 1387.1,335.3 1389.6,333.8 1392.1,332.6 1394.6,331.6 1397.0,330.8 1399.5,330.3 1402.0,330.1 1404.5,330.2 1407.0,330.5 1409.5,331.0 1411.9,331.8 1414.4,332.9 1416.9,334.3 1419.4,335.8 1421.9,337.7 1424.4,339.8 1426.8,342.1 1429.3,344.6 1431.8,347.4 1434.3,350.3 1436.8,353.5 1439.3,356.9 1441.7,360.5 1444.2,364.2 1446.7,368.1 1449.2,372.2 1451.7,376.4 1454.2,380.7 1456.6,385.2 1459.1,389.8 1461.6,394.4 1464.1,399.2 1466.6,404.0 1469.1,408.9 1471.5,413.8 1474.0,418.7 1476.5,423.7 1479.0,428.7 1481.5,433.6 1484.0,438.5 1486.4,443.4 1488.9,448.2 1491.4,453.0 1493.9,457.7 1496.4,462.3 1498.8,466.7 1501.3,471.1 1503.8,475.3 1506.3,479.4 1508.8,483.3 1511.3,487.1 1513.7,490.7 1516.2,494.1 1518.7,497.3 1521.2,500.3 1523.7,503.1 1526.2,505.6 1528.6,508.0 1531.1,510.1 1533.6,511.9 1536.1,513.6 1538.6,514.9 1541.1,516.0 1543.5,516.9 1546.0,517.5 1548.5,517.8 1551.0,517.9 1553.5,517.7 1556.0,517.3 1558.4,516.5 1560.9,515.6 1563.4,514.3 1565.9,512.9 1568.4,511.1 1570.9,509.2 1573.3,507.0 1575.8,504.5 1578.3,501.8 1580.8,499.0 1583.3,495.9 1585.8,492.6 1588.2,489.1 1590.7,485.4 1593.2,481.6 1595.7,477.6 1598.2,473.4 1600.7,469.1 1603.1,464.7 1605.6,460.2 1608.1,455.6 1610.6,450.9 1613.1,446.1 1615.6,441.2 1618.0,436.3 1620.5,431.4 1623.0,426.4"/>
</g></g>
<g filter="url(#soft)">
<text class="tk" transform="translate(219.80,67.50) scale(0.9800,1)" text-anchor="end">0.40</text>
<text class="tk" transform="translate(219.80,256.25) scale(0.9800,1)" text-anchor="end">0.20</text>
<text class="tk" transform="translate(219.80,445.00) scale(0.9800,1)" text-anchor="end">0.00</text>
<text class="tk" transform="translate(219.80,633.75) scale(0.9800,1)" text-anchor="end">-0.20</text>
<text class="tk" transform="translate(219.80,822.50) scale(0.9800,1)" text-anchor="end">-0.40</text>
<text class="tk" transform="translate(237.80,875.40) scale(0.9800,1)" text-anchor="middle">0.0</text>
<text class="tk" transform="translate(697.47,875.40) scale(0.9800,1)" text-anchor="middle">2.0</text>
<text class="tk" transform="translate(1157.13,875.40) scale(0.9800,1)" text-anchor="middle">4.0</text>
<text class="tk" transform="translate(1616.80,875.40) scale(0.9800,1)" text-anchor="middle">6.0</text>
<text class="lb" transform="translate(928.60,949.00) scale(1.0060,1)" text-anchor="middle">Time (sec)</text>
<text class="lb" transform="translate(76.00,426.00) scale(1.0000,1) rotate(-90)" text-anchor="middle">Vertical Displacement (m)</text>
</g>
<rect x="643.5" y="64.0" width="952.8" height="133.8" fill="#fff"/>
<rect x="641.0" y="64.0" width="2.5" height="133.8" fill="#f0f0f0"/>
<rect x="643.5" y="197.8" width="952.8" height="3.2" fill="#e6e6e6"/>
<rect x="643.5" y="66.6" width="952.8" height="2.7" fill="#d2d2d2"/>
<rect x="1591.1" y="64.0" width="2.7" height="133.8" fill="#c6c6c6"/>
<rect x="643.5" y="195.0" width="952.8" height="2.8" fill="#707070"/>
<rect x="643.5" y="64.0" width="952.8" height="2.6" fill="#6e6e6e"/>
<rect x="643.5" y="64.0" width="2.6" height="133.8" fill="#484848"/>
<rect x="1593.8" y="64.0" width="2.5" height="133.8" fill="#1e1e1e"/>
<g filter="url(#soft)">
<line x1="656.8" y1="100.9" x2="775.8" y2="100.9" stroke="#0000ff" stroke-width="5.6"/>
<text class="lg" transform="translate(784.10,119.30) scale(0.9570,1)" text-anchor="start">Eq</text>
<line x1="965.3" y1="100.9" x2="1084.3" y2="100.9" stroke="#000000" stroke-width="5.6"/>
<text class="lg" transform="translate(1091.70,119.30) scale(0.9570,1)" text-anchor="start">Sq</text>
<line x1="656.8" y1="160.9" x2="775.8" y2="160.9" stroke="#ff0000" stroke-width="5.6"/>
<text class="lg" transform="translate(784.10,179.30) scale(0.9570,1)" text-anchor="start">Eq + Sq</text>
<line x1="965.3" y1="160.9" x2="1084.3" y2="160.9" stroke="#ff00ff" stroke-width="5.6"/>
<text class="lg" transform="translate(1091.70,179.30) scale(0.9570,1)" text-anchor="start">Seismic excitation</text>
<text class="mx" x="1477.7" y="181.0">×</text>
<text class="lg" transform="translate(1531.20,179.30) scale(0.9570,1)" text-anchor="start">10</text>
</g>
</g>
<g transform="translate(0,2445)">
<line class="gr" style="stroke:#e2e2e2;stroke-width:1.8" x1="239.0" y1="238.10" x2="1618.0" y2="238.10" stroke-dashoffset="27.79"/>
<line class="gr" style="stroke:#060606;stroke-width:3.1" x1="239.0" y1="235.10" x2="1618.0" y2="235.10" stroke-dashoffset="27.79"/>
<line class="gr" style="stroke:#d4d4d4;stroke-width:2.6" x1="239.0" y1="427.10" x2="1618.0" y2="427.10" stroke-dashoffset="27.79"/>
<line class="gr" style="stroke:#060606;stroke-width:3" x1="239.0" y1="424.00" x2="1618.0" y2="424.00" stroke-dashoffset="27.79"/>
<line class="gr" style="stroke:#c0c0c0;stroke-width:2.5" x1="239.0" y1="614.75" x2="1618.0" y2="614.75" stroke-dashoffset="27.79"/>
<line class="gr" style="stroke:#636363;stroke-width:2.8" x1="239.0" y1="612.10" x2="1618.0" y2="612.10" stroke-dashoffset="27.79"/>
<line class="gr" style="stroke:#c4c4c4;stroke-width:2.8" x1="696.62" y1="46.5" x2="696.62" y2="801.5" stroke-dashoffset="36.29"/>
<line class="gr" style="stroke:#363636;stroke-width:3" x1="699.57" y1="46.5" x2="699.57" y2="801.5" stroke-dashoffset="36.29"/>
<line class="gr" style="stroke:#e0e0e0;stroke-width:2.4" x1="1161.23" y1="46.5" x2="1161.23" y2="801.5" stroke-dashoffset="36.29"/>
<line class="gr" style="stroke:#363636;stroke-width:3" x1="1158.13" y1="46.5" x2="1158.13" y2="801.5" stroke-dashoffset="36.29"/>
<rect x="237" y="42.2" width="1384" height="2.8" fill="#c4c4c4"/>
<rect x="237" y="45" width="1384" height="3" fill="#1c1c1c"/>
<rect x="237" y="799.2" width="1384" height="2.8" fill="#dedede"/>
<rect x="237" y="802" width="1384" height="2.7" fill="#707070"/>
<rect x="239.8" y="48" width="2.2" height="751" fill="#c8c8c8"/>
<rect x="237" y="45" width="2.8" height="759.7" fill="#2a2a2a"/>
<rect x="1615.5" y="45" width="5.3" height="759.7" fill="#5c5c5c"/>
<line x1="240.5" y1="238.10" x2="253.0" y2="238.10" stroke="#e2e2e2" stroke-width="1.8"/>
<line x1="1604.0" y1="238.10" x2="1616.0" y2="238.10" stroke="#e2e2e2" stroke-width="1.8"/>
<line x1="240.5" y1="235.10" x2="253.0" y2="235.10" stroke="#060606" stroke-width="3.1"/>
<line x1="1604.0" y1="235.10" x2="1616.0" y2="235.10" stroke="#060606" stroke-width="3.1"/>
<line x1="240.5" y1="427.10" x2="253.0" y2="427.10" stroke="#d4d4d4" stroke-width="2.6"/>
<line x1="1604.0" y1="427.10" x2="1616.0" y2="427.10" stroke="#d4d4d4" stroke-width="2.6"/>
<line x1="240.5" y1="424.00" x2="253.0" y2="424.00" stroke="#060606" stroke-width="3"/>
<line x1="1604.0" y1="424.00" x2="1616.0" y2="424.00" stroke="#060606" stroke-width="3"/>
<line x1="240.5" y1="614.75" x2="253.0" y2="614.75" stroke="#c0c0c0" stroke-width="2.5"/>
<line x1="1604.0" y1="614.75" x2="1616.0" y2="614.75" stroke="#c0c0c0" stroke-width="2.5"/>
<line x1="240.5" y1="612.10" x2="253.0" y2="612.10" stroke="#636363" stroke-width="2.8"/>
<line x1="1604.0" y1="612.10" x2="1616.0" y2="612.10" stroke="#636363" stroke-width="2.8"/>
<line x1="696.62" y1="48.0" x2="696.62" y2="60.5" stroke="#c4c4c4" stroke-width="2.8"/>
<line x1="696.62" y1="787.5" x2="696.62" y2="800.5" stroke="#c4c4c4" stroke-width="2.8"/>
<line x1="699.57" y1="48.0" x2="699.57" y2="60.5" stroke="#363636" stroke-width="3"/>
<line x1="699.57" y1="787.5" x2="699.57" y2="800.5" stroke="#363636" stroke-width="3"/>
<line x1="1161.23" y1="48.0" x2="1161.23" y2="60.5" stroke="#e0e0e0" stroke-width="2.4"/>
<line x1="1161.23" y1="787.5" x2="1161.23" y2="800.5" stroke="#e0e0e0" stroke-width="2.4"/>
<line x1="1158.13" y1="48.0" x2="1158.13" y2="60.5" stroke="#363636" stroke-width="3"/>
<line x1="1158.13" y1="787.5" x2="1158.13" y2="800.5" stroke="#363636" stroke-width="3"/>
<g filter="url(#soft)"><g clip-path="url(#clipbox)">
<polyline class="cv" stroke="#0000ff" points="235.0,492.2 237.5,500.7 240.0,508.9 242.4,516.8 244.9,524.4 247.4,531.6 249.9,538.4 252.4,544.7 254.9,550.7 257.3,556.1 259.8,561.0 262.3,565.4 264.8,569.3 267.3,572.6 269.8,575.4 272.2,577.6 274.7,579.2 277.2,580.2 279.7,580.6 282.2,580.5 284.7,579.7 287.1,578.4 289.6,576.4 292.1,573.9 294.6,570.8 297.1,567.2 299.6,563.0 302.0,558.3 304.5,553.1 307.0,547.4 309.5,541.2 312.0,534.6 314.5,527.6 316.9,520.2 319.4,512.4 321.9,504.3 324.4,495.9 326.9,487.3 329.4,478.4 331.8,469.4 334.3,460.1 336.8,450.8 339.3,441.4 341.8,431.9 344.3,422.4 346.7,413.0 349.2,403.6 351.7,394.3 354.2,385.2 356.7,376.2 359.2,367.5 361.6,358.9 364.1,350.7 366.6,342.8 369.1,335.2 371.6,328.0 374.0,321.2 376.5,314.8 379.0,308.9 381.5,303.4 384.0,298.5 386.5,294.1 388.9,290.2 391.4,286.8 393.9,284.0 396.4,281.8 398.9,280.2 401.4,279.1 403.8,278.7 406.3,278.8 408.8,279.6 411.3,280.9 413.8,282.8 416.3,285.3 418.7,288.4 421.2,292.0 423.7,296.2 426.2,300.9 428.7,306.0 431.2,311.7 433.6,317.9 436.1,324.5 438.6,331.5 441.1,338.9 443.6,346.6 446.1,354.7 448.5,363.1 451.0,371.7 453.5,380.6 456.0,389.6 458.5,398.8 461.0,408.2 463.4,417.6 465.9,427.0 468.4,436.5 470.9,446.0 473.4,455.4 475.9,464.6 478.3,473.8 480.8,482.8 483.3,491.5 485.8,500.1 488.3,508.3 490.7,516.2 493.2,523.8 495.7,531.0 498.2,537.9 500.7,544.3 503.2,550.2 505.6,555.7 508.1,560.6 510.6,565.1 513.1,569.0 515.6,572.4 518.1,575.2 520.5,577.4 523.0,579.1 525.5,580.2 528.0,580.6 530.5,580.5 533.0,579.8 535.4,578.5 537.9,576.6 540.4,574.1 542.9,571.1 545.4,567.5 547.9,563.3 550.3,558.7 552.8,553.5 555.3,547.8 557.8,541.7 560.3,535.1 562.8,528.1 565.2,520.8 567.7,513.0 570.2,505.0 572.7,496.6 575.2,488.0 577.7,479.1 580.1,470.1 582.6,460.9 585.1,451.5 587.6,442.1 590.1,432.6 592.6,423.2 595.0,413.7 597.5,404.3 600.0,395.0 602.5,385.9 605.0,376.9 607.5,368.1 609.9,359.6 612.4,351.3 614.9,343.4 617.4,335.8 619.9,328.6 622.3,321.7 624.8,315.3 627.3,309.3 629.8,303.9 632.3,298.9 634.8,294.4 637.2,290.4 639.7,287.1 642.2,284.2 644.7,282.0 647.2,280.3 649.7,279.2 652.1,278.7 654.6,278.8 657.1,279.5 659.6,280.8 662.1,282.6 664.6,285.1 667.0,288.1 669.5,291.7 672.0,295.8 674.5,300.5 677.0,305.6 679.5,311.3 681.9,317.4 684.4,323.9 686.9,330.9 689.4,338.3 691.9,346.0 694.4,354.0 696.8,362.4 699.3,371.0 701.8,379.9 704.3,388.9 706.8,398.1 709.3,407.4 711.7,416.8 714.2,426.3 716.7,435.8 719.2,445.2 721.7,454.6 724.2,463.9 726.6,473.1 729.1,482.1 731.6,490.9 734.1,499.4 736.6,507.7 739.1,515.6 741.5,523.2 744.0,530.5 746.5,537.3 749.0,543.8 751.5,549.8 753.9,555.3 756.4,560.3 758.9,564.8 761.4,568.7 763.9,572.1 766.4,575.0 768.8,577.3 771.3,579.0 773.8,580.1 776.3,580.6 778.8,580.5 781.3,579.9 783.7,578.6 786.2,576.8 788.7,574.3 791.2,571.3 793.7,567.8 796.2,563.7 798.6,559.1 801.1,553.9 803.6,548.3 806.1,542.2 808.6,535.7 811.1,528.7 813.5,521.4 816.0,513.6 818.5,505.6 821.0,497.3 823.5,488.7 826.0,479.8 828.4,470.8 830.9,461.6 833.4,452.3 835.9,442.9 838.4,433.4 840.9,423.9 843.3,414.5 845.8,405.1 848.3,395.8 850.8,386.6 853.3,377.6 855.8,368.8 858.2,360.3 860.7,352.0 863.2,344.0 865.7,336.4 868.2,329.1 870.6,322.2 873.1,315.8 875.6,309.8 878.1,304.3 880.6,299.2 883.1,294.7 885.5,290.7 888.0,287.3 890.5,284.4 893.0,282.1 895.5,280.4 898.0,279.3 900.4,278.7 902.9,278.8 905.4,279.4 907.9,280.6 910.4,282.5 912.9,284.9 915.3,287.9 917.8,291.4 920.3,295.5 922.8,300.1 925.3,305.2 927.8,310.8 930.2,316.9 932.7,323.4 935.2,330.3 937.7,337.7 940.2,345.4 942.7,353.4 945.1,361.7 947.6,370.3 950.1,379.2 952.6,388.2 955.1,397.4 957.6,406.7 960.0,416.1 962.5,425.6 965.0,435.0 967.5,444.5 970.0,453.9 972.5,463.2 974.9,472.4 977.4,481.4 979.9,490.2 982.4,498.7 984.9,507.0 987.4,515.0 989.8,522.7 992.3,529.9 994.8,536.8 997.3,543.3 999.8,549.3 1002.2,554.8 1004.7,559.9 1007.2,564.4 1009.7,568.4 1012.2,571.9 1014.7,574.8 1017.1,577.1 1019.6,578.9 1022.1,580.0 1024.6,580.6 1027.1,580.6 1029.6,580.0 1032.0,578.7 1034.5,576.9 1037.0,574.6 1039.5,571.6 1042.0,568.1 1044.5,564.0 1046.9,559.4 1049.4,554.3 1051.9,548.7 1054.4,542.7 1056.9,536.2 1059.4,529.3 1061.8,521.9 1064.3,514.3 1066.8,506.2 1069.3,497.9 1071.8,489.3 1074.3,480.5 1076.7,471.5 1079.2,462.3 1081.7,453.0 1084.2,443.6 1086.7,434.1 1089.2,424.7 1091.6,415.2 1094.1,405.8 1096.6,396.5 1099.1,387.3 1101.6,378.3 1104.1,369.5 1106.5,360.9 1109.0,352.6 1111.5,344.6 1114.0,337.0 1116.5,329.7 1118.9,322.8 1121.4,316.3 1123.9,310.3 1126.4,304.7 1128.9,299.6 1131.4,295.1 1133.8,291.0 1136.3,287.5 1138.8,284.6 1141.3,282.3 1143.8,280.5 1146.3,279.3 1148.7,278.7 1151.2,278.7 1153.7,279.3 1156.2,280.5 1158.7,282.3 1161.2,284.7 1163.6,287.6 1166.1,291.1 1168.6,295.1 1171.1,299.7 1173.6,304.8 1176.1,310.3 1178.5,316.4 1181.0,322.9 1183.5,329.8 1186.0,337.1 1188.5,344.8 1191.0,352.8 1193.4,361.1 1195.9,369.6 1198.4,378.4 1200.9,387.5 1203.4,396.6 1205.9,406.0 1208.3,415.4 1210.8,424.8 1213.3,434.3 1215.8,443.8 1218.3,453.2 1220.8,462.5 1223.2,471.7 1225.7,480.7 1228.2,489.5 1230.7,498.1 1233.2,506.4 1235.7,514.4 1238.1,522.1 1240.6,529.4 1243.1,536.3 1245.6,542.8 1248.1,548.8 1250.5,554.4 1253.0,559.5 1255.5,564.1 1258.0,568.1 1260.5,571.6 1263.0,574.6 1265.4,577.0 1267.9,578.8 1270.4,580.0 1272.9,580.6 1275.4,580.6 1277.9,580.0 1280.3,578.9 1282.8,577.1 1285.3,574.8 1287.8,571.8 1290.3,568.4 1292.8,564.4 1295.2,559.8 1297.7,554.8 1300.2,549.2 1302.7,543.2 1305.2,536.7 1307.7,529.8 1310.1,522.5 1312.6,514.9 1315.1,506.9 1317.6,498.6 1320.1,490.0 1322.6,481.2 1325.0,472.2 1327.5,463.0 1330.0,453.7 1332.5,444.3 1335.0,434.9 1337.5,425.4 1339.9,415.9 1342.4,406.5 1344.9,397.2 1347.4,388.0 1349.9,379.0 1352.4,370.2 1354.8,361.6 1357.3,353.3 1359.8,345.2 1362.3,337.6 1364.8,330.2 1367.3,323.3 1369.7,316.8 1372.2,310.7 1374.7,305.1 1377.2,300.0 1379.7,295.4 1382.1,291.3 1384.6,287.8 1387.1,284.8 1389.6,282.4 1392.1,280.6 1394.6,279.4 1397.0,278.8 1399.5,278.7 1402.0,279.3 1404.5,280.4 1407.0,282.1 1409.5,284.5 1411.9,287.4 1414.4,290.8 1416.9,294.8 1419.4,299.3 1421.9,304.4 1424.4,309.9 1426.8,315.9 1429.3,322.4 1431.8,329.2 1434.3,336.5 1436.8,344.1 1439.3,352.1 1441.7,360.4 1444.2,369.0 1446.7,377.7 1449.2,386.7 1451.7,395.9 1454.2,405.2 1456.6,414.6 1459.1,424.1 1461.6,433.5 1464.1,443.0 1466.6,452.4 1469.1,461.7 1471.5,470.9 1474.0,480.0 1476.5,488.8 1479.0,497.4 1481.5,505.7 1484.0,513.8 1486.4,521.5 1488.9,528.8 1491.4,535.8 1493.9,542.3 1496.4,548.4 1498.8,554.0 1501.3,559.1 1503.8,563.8 1506.3,567.8 1508.8,571.4 1511.3,574.4 1513.7,576.8 1516.2,578.6 1518.7,579.9 1521.2,580.6 1523.7,580.6 1526.2,580.1 1528.6,579.0 1531.1,577.3 1533.6,575.0 1536.1,572.1 1538.6,568.7 1541.1,564.7 1543.5,560.2 1546.0,555.2 1548.5,549.7 1551.0,543.7 1553.5,537.2 1556.0,530.4 1558.4,523.1 1560.9,515.5 1563.4,507.5 1565.9,499.3 1568.4,490.7 1570.9,481.9 1573.3,472.9 1575.8,463.8 1578.3,454.5 1580.8,445.1 1583.3,435.6 1585.8,426.2 1588.2,416.7 1590.7,407.3 1593.2,397.9 1595.7,388.7 1598.2,379.7 1600.7,370.9 1603.1,362.3 1605.6,353.9 1608.1,345.9 1610.6,338.1 1613.1,330.8 1615.6,323.8 1618.0,317.3 1620.5,311.2 1623.0,305.5"/>
<polyline class="cv" stroke="#ff0000" points="235.0,500.3 237.5,510.5 240.0,520.3 242.4,529.8 244.9,538.8 247.4,547.5 249.9,555.6 252.4,563.3 254.9,570.4 257.3,576.9 259.8,582.9 262.3,588.2 264.8,592.9 267.3,597.0 269.8,600.4 272.2,603.1 274.7,605.1 277.2,606.4 279.7,607.0 282.2,606.9 284.7,606.1 287.1,604.6 289.6,602.4 292.1,599.5 294.6,596.0 297.1,591.7 299.6,586.8 302.0,581.3 304.5,575.2 307.0,568.5 309.5,561.2 312.0,553.5 314.5,545.2 316.9,536.4 319.4,527.3 321.9,517.7 324.4,507.8 326.9,497.5 329.4,487.0 331.8,476.3 334.3,465.3 336.8,454.2 339.3,443.0 341.8,431.8 344.3,420.5 346.7,409.3 349.2,398.1 351.7,387.1 354.2,376.2 356.7,365.5 359.2,355.1 361.6,344.9 364.1,335.1 366.6,325.6 369.1,316.6 371.6,308.0 374.0,299.8 376.5,292.2 379.0,285.1 381.5,278.5 384.0,272.6 386.5,267.3 388.9,262.5 391.4,258.5 393.9,255.1 396.4,252.4 398.9,250.4 401.4,249.1 403.8,248.5 406.3,248.6 408.8,249.4 411.3,250.9 413.8,253.2 416.3,256.1 418.7,259.7 421.2,263.9 423.7,268.8 426.2,274.3 428.7,280.5 431.2,287.2 433.6,294.4 436.1,302.2 438.6,310.5 441.1,319.3 443.6,328.4 446.1,338.0 448.5,348.0 451.0,358.2 453.5,368.7 456.0,379.5 458.5,390.4 461.0,401.5 463.4,412.7 465.9,423.9 468.4,435.2 470.9,446.4 473.4,457.6 475.9,468.7 478.3,479.5 480.8,490.2 483.3,500.7 485.8,510.8 488.3,520.6 490.7,530.1 493.2,539.1 495.7,547.7 498.2,555.9 500.7,563.5 503.2,570.6 505.6,577.1 508.1,583.1 510.6,588.4 513.1,593.1 515.6,597.1 518.1,600.5 520.5,603.2 523.0,605.2 525.5,606.5 528.0,607.0 530.5,606.9 533.0,606.1 535.4,604.6 537.9,602.3 540.4,599.4 542.9,595.8 545.4,591.6 547.9,586.7 550.3,581.1 552.8,575.0 555.3,568.3 557.8,561.0 560.3,553.2 562.8,544.9 565.2,536.1 567.7,526.9 570.2,517.4 572.7,507.4 575.2,497.2 577.7,486.7 580.1,475.9 582.6,465.0 585.1,453.9 587.6,442.7 590.1,431.4 592.6,420.2 595.0,408.9 597.5,397.8 600.0,386.7 602.5,375.8 605.0,365.2 607.5,354.7 609.9,344.6 612.4,334.8 614.9,325.3 617.4,316.3 619.9,307.7 622.3,299.6 624.8,291.9 627.3,284.9 629.8,278.3 632.3,272.4 634.8,267.1 637.2,262.4 639.7,258.4 642.2,255.0 644.7,252.3 647.2,250.4 649.7,249.1 652.1,248.5 654.6,248.6 657.1,249.5 659.6,251.0 662.1,253.2 664.6,256.2 667.0,259.8 669.5,264.1 672.0,269.0 674.5,274.5 677.0,280.7 679.5,287.4 681.9,294.7 684.4,302.5 686.9,310.8 689.4,319.6 691.9,328.8 694.4,338.3 696.8,348.3 699.3,358.5 701.8,369.1 704.3,379.8 706.8,390.8 709.3,401.9 711.7,413.1 714.2,424.3 716.7,435.6 719.2,446.8 721.7,458.0 724.2,469.0 726.6,479.9 729.1,490.6 731.6,501.0 734.1,511.1 736.6,520.9 739.1,530.4 741.5,539.4 744.0,548.0 746.5,556.1 749.0,563.7 751.5,570.8 753.9,577.3 756.4,583.2 758.9,588.5 761.4,593.2 763.9,597.2 766.4,600.6 768.8,603.2 771.3,605.2 773.8,606.5 776.3,607.1 778.8,606.9 781.3,606.1 783.7,604.5 786.2,602.3 788.7,599.3 791.2,595.7 793.7,591.4 796.2,586.5 798.6,580.9 801.1,574.8 803.6,568.0 806.1,560.7 808.6,552.9 811.1,544.6 813.5,535.8 816.0,526.6 818.5,517.1 821.0,507.1 823.5,496.9 826.0,486.3 828.4,475.6 830.9,464.6 833.4,453.5 835.9,442.3 838.4,431.1 840.9,419.8 843.3,408.6 845.8,397.4 848.3,386.4 850.8,375.5 853.3,364.8 855.8,354.4 858.2,344.3 860.7,334.5 863.2,325.0 865.7,316.0 868.2,307.4 870.6,299.3 873.1,291.7 875.6,284.6 878.1,278.1 880.6,272.2 883.1,266.9 885.5,262.3 888.0,258.3 890.5,254.9 893.0,252.3 895.5,250.3 898.0,249.0 900.4,248.5 902.9,248.6 905.4,249.5 907.9,251.1 910.4,253.3 912.9,256.3 915.3,259.9 917.8,264.2 920.3,269.1 922.8,274.7 925.3,280.9 927.8,287.6 930.2,294.9 932.7,302.8 935.2,311.1 937.7,319.9 940.2,329.1 942.7,338.7 945.1,348.6 947.6,358.9 950.1,369.4 952.6,380.2 955.1,391.1 957.6,402.2 960.0,413.4 962.5,424.7 965.0,435.9 967.5,447.2 970.0,458.3 972.5,469.4 974.9,480.2 977.4,490.9 979.9,501.3 982.4,511.5 984.9,521.2 987.4,530.7 989.8,539.7 992.3,548.3 994.8,556.4 997.3,564.0 999.8,571.0 1002.2,577.5 1004.7,583.4 1007.2,588.7 1009.7,593.4 1012.2,597.3 1014.7,600.7 1017.1,603.3 1019.6,605.3 1022.1,606.5 1024.6,607.1 1027.1,606.9 1029.6,606.0 1032.0,604.4 1034.5,602.2 1037.0,599.2 1039.5,595.6 1042.0,591.3 1044.5,586.3 1046.9,580.8 1049.4,574.6 1051.9,567.8 1054.4,560.5 1056.9,552.7 1059.4,544.3 1061.8,535.6 1064.3,526.3 1066.8,516.7 1069.3,506.8 1071.8,496.5 1074.3,486.0 1076.7,475.2 1079.2,464.3 1081.7,453.2 1084.2,442.0 1086.7,430.7 1089.2,419.4 1091.6,408.2 1094.1,397.0 1096.6,386.0 1099.1,375.1 1101.6,364.5 1104.1,354.1 1106.5,343.9 1109.0,334.1 1111.5,324.7 1114.0,315.7 1116.5,307.1 1118.9,299.0 1121.4,291.5 1123.9,284.4 1126.4,277.9 1128.9,272.0 1131.4,266.8 1133.8,262.1 1136.3,258.1 1138.8,254.8 1141.3,252.2 1143.8,250.3 1146.3,249.0 1148.7,248.5 1151.2,248.7 1153.7,249.5 1156.2,251.1 1158.7,253.4 1161.2,256.4 1163.6,260.0 1166.1,264.4 1168.6,269.3 1171.1,274.9 1173.6,281.1 1176.1,287.8 1178.5,295.2 1181.0,303.0 1183.5,311.3 1186.0,320.1 1188.5,329.4 1191.0,339.0 1193.4,348.9 1195.9,359.2 1198.4,369.7 1200.9,380.5 1203.4,391.5 1205.9,402.6 1208.3,413.8 1210.8,425.0 1213.3,436.3 1215.8,447.5 1218.3,458.7 1220.8,469.7 1223.2,480.6 1225.7,491.2 1228.2,501.7 1230.7,511.8 1233.2,521.6 1235.7,531.0 1238.1,540.0 1240.6,548.5 1243.1,556.6 1245.6,564.2 1248.1,571.2 1250.5,577.7 1253.0,583.6 1255.5,588.9 1258.0,593.5 1260.5,597.5 1263.0,600.8 1265.4,603.4 1267.9,605.3 1270.4,606.5 1272.9,607.1 1275.4,606.9 1277.9,606.0 1280.3,604.4 1282.8,602.1 1285.3,599.1 1287.8,595.4 1290.3,591.1 1292.8,586.2 1295.2,580.6 1297.7,574.4 1300.2,567.6 1302.7,560.3 1305.2,552.4 1307.7,544.1 1310.1,535.3 1312.6,526.0 1315.1,516.4 1317.6,506.5 1320.1,496.2 1322.6,485.6 1325.0,474.9 1327.5,463.9 1330.0,452.8 1332.5,441.6 1335.0,430.3 1337.5,419.1 1339.9,407.8 1342.4,396.7 1344.9,385.6 1347.4,374.8 1349.9,364.1 1352.4,353.7 1354.8,343.6 1357.3,333.8 1359.8,324.4 1362.3,315.4 1364.8,306.9 1367.3,298.8 1369.7,291.2 1372.2,284.2 1374.7,277.7 1377.2,271.9 1379.7,266.6 1382.1,262.0 1384.6,258.0 1387.1,254.7 1389.6,252.1 1392.1,250.2 1394.6,249.0 1397.0,248.5 1399.5,248.7 1402.0,249.6 1404.5,251.2 1407.0,253.5 1409.5,256.5 1411.9,260.2 1414.4,264.5 1416.9,269.5 1419.4,275.1 1421.9,281.3 1424.4,288.1 1426.8,295.4 1429.3,303.3 1431.8,311.6 1434.3,320.4 1436.8,329.7 1439.3,339.3 1441.7,349.3 1444.2,359.5 1446.7,370.1 1449.2,380.9 1451.7,391.8 1454.2,402.9 1456.6,414.1 1459.1,425.4 1461.6,436.7 1464.1,447.9 1466.6,459.1 1469.1,470.1 1471.5,480.9 1474.0,491.6 1476.5,502.0 1479.0,512.1 1481.5,521.9 1484.0,531.3 1486.4,540.3 1488.9,548.8 1491.4,556.9 1493.9,564.4 1496.4,571.5 1498.8,577.9 1501.3,583.8 1503.8,589.0 1506.3,593.6 1508.8,597.6 1511.3,600.9 1513.7,603.5 1516.2,605.4 1518.7,606.6 1521.2,607.1 1523.7,606.9 1526.2,605.9 1528.6,604.3 1531.1,602.0 1533.6,599.0 1536.1,595.3 1538.6,591.0 1541.1,586.0 1543.5,580.4 1546.0,574.2 1548.5,567.4 1551.0,560.0 1553.5,552.1 1556.0,543.8 1558.4,535.0 1560.9,525.7 1563.4,516.1 1565.9,506.1 1568.4,495.8 1570.9,485.3 1573.3,474.5 1575.8,463.5 1578.3,452.4 1580.8,441.2 1583.3,430.0 1585.8,418.7 1588.2,407.5 1590.7,396.3 1593.2,385.3 1595.7,374.4 1598.2,363.8 1600.7,353.4 1603.1,343.3 1605.6,333.5 1608.1,324.1 1610.6,315.1 1613.1,306.6 1615.6,298.5 1618.0,291.0 1620.5,284.0 1623.0,277.5"/>
<polyline class="cv" stroke="#000000" points="235.0,459.5 237.5,460.2 240.0,460.8 242.4,461.5 244.9,462.1 247.4,462.7 249.9,463.4 252.4,464.0 254.9,464.6 257.3,465.2 259.8,465.7 262.3,466.2 264.8,466.7 267.3,467.1 269.8,467.5 272.2,467.8 274.7,468.0 277.2,468.2 279.7,468.3 282.2,468.3 284.7,468.2 287.1,468.1 289.6,467.8 292.1,467.5 294.6,467.0 297.1,466.4 299.6,465.7 302.0,464.8 304.5,463.8 307.0,462.7 309.5,461.4 312.0,460.0 314.5,458.4 316.9,456.6 319.4,454.6 321.9,452.5 324.4,450.2 326.9,447.7 329.4,445.2 331.8,442.5 334.3,439.8 336.8,436.9 339.3,434.1 341.8,431.2 344.3,428.4 346.7,425.6 349.2,422.8 351.7,420.1 354.2,417.5 356.7,415.0 359.2,412.6 361.6,410.4 364.1,408.4 366.6,406.6 369.1,404.9 371.6,403.4 374.0,402.2 376.5,401.1 379.0,400.1 381.5,399.4 384.0,398.8 386.5,398.4 388.9,398.2 391.4,398.1 393.9,398.2 396.4,398.5 398.9,398.9 401.4,399.5 403.8,400.2 406.3,401.1 408.8,402.1 411.3,403.3 413.8,404.7 416.3,406.2 418.7,407.8 421.2,409.6 423.7,411.5 426.2,413.5 428.7,415.7 431.2,417.9 433.6,420.2 436.1,422.6 438.6,424.9 441.1,427.3 443.6,429.6 446.1,431.9 448.5,434.1 451.0,436.2 453.5,438.1 456.0,440.0 458.5,441.9 461.0,443.6 463.4,445.2 465.9,446.8 468.4,448.3 470.9,449.7 473.4,451.1 475.9,452.4 478.3,453.6 480.8,454.7 483.3,455.8 485.8,456.8 488.3,457.8 490.7,458.6 493.2,459.4 495.7,460.2 498.2,460.9 500.7,461.5 503.2,462.0 505.6,462.5 508.1,462.9 510.6,463.3 513.1,463.6 515.6,463.8 518.1,464.0 520.5,464.1 523.0,464.1 525.5,464.1 528.0,464.0 530.5,463.9 533.0,463.7 535.4,463.5 537.9,463.2 540.4,462.9 542.9,462.4 545.4,461.9 547.9,461.4 550.3,460.7 552.8,459.9 555.3,459.1 557.8,458.1 560.3,457.0 562.8,455.8 565.2,454.5 567.7,453.1 570.2,451.5 572.7,449.8 575.2,447.9 577.7,445.8 580.1,443.6 582.6,441.3 585.1,438.8 587.6,436.2 590.1,433.6 592.6,430.9 595.0,428.1 597.5,425.4 600.0,422.7 602.5,420.0 605.0,417.4 607.5,415.0 609.9,412.6 612.4,410.4 614.9,408.4 617.4,406.5 619.9,404.9 622.3,403.5 624.8,402.3 627.3,401.2 629.8,400.4 632.3,399.8 634.8,399.4 637.2,399.2 639.7,399.3 642.2,399.5 644.7,399.9 647.2,400.5 649.7,401.3 652.1,402.4 654.6,403.6 657.1,405.0 659.6,406.6 662.1,408.4 664.6,410.3 667.0,412.3 669.5,414.5 672.0,416.7 674.5,419.0 677.0,421.4 679.5,423.8 681.9,426.2 684.4,428.7 686.9,431.1 689.4,433.6 691.9,436.0 694.4,438.3 696.8,440.5 699.3,442.7 701.8,444.7 704.3,446.7 706.8,448.5 709.3,450.1 711.7,451.6 714.2,452.9 716.7,454.2 719.2,455.3 721.7,456.3 724.2,457.1 726.6,457.9 729.1,458.6 731.6,459.2 734.1,459.8 736.6,460.3 739.1,460.7 741.5,461.1 744.0,461.4 746.5,461.7 749.0,462.0 751.5,462.3 753.9,462.5 756.4,462.8 758.9,463.0 761.4,463.3 763.9,463.5 766.4,463.6 768.8,463.8 771.3,463.8 773.8,463.9 776.3,463.8 778.8,463.7 781.3,463.5 783.7,463.3 786.2,462.9 788.7,462.5 791.2,461.9 793.7,461.3 796.2,460.5 798.6,459.6 801.1,458.5 803.6,457.4 806.1,456.0 808.6,454.6 811.1,452.9 813.5,451.1 816.0,449.1 818.5,447.0 821.0,444.8 823.5,442.4 826.0,440.0 828.4,437.5 830.9,434.9 833.4,432.3 835.9,429.7 838.4,427.1 840.9,424.5 843.3,422.0 845.8,419.5 848.3,417.2 850.8,414.9 853.3,412.7 855.8,410.7 858.2,408.7 860.7,406.9 863.2,405.3 865.7,403.8 868.2,402.4 870.6,401.1 873.1,400.1 875.6,399.2 878.1,398.4 880.6,397.8 883.1,397.4 885.5,397.2 888.0,397.2 890.5,397.4 893.0,397.7 895.5,398.3 898.0,399.1 900.4,400.1 902.9,401.3 905.4,402.7 907.9,404.2 910.4,406.0 912.9,407.8 915.3,409.8 917.8,411.9 920.3,414.1 922.8,416.3 925.3,418.6 927.8,420.9 930.2,423.2 932.7,425.6 935.2,427.9 937.7,430.2 940.2,432.4 942.7,434.6 945.1,436.7 947.6,438.7 950.1,440.6 952.6,442.5 955.1,444.4 957.6,446.1 960.0,447.8 962.5,449.5 965.0,451.0 967.5,452.5 970.0,453.9 972.5,455.2 974.9,456.5 977.4,457.7 979.9,458.8 982.4,459.9 984.9,460.8 987.4,461.7 989.8,462.5 992.3,463.2 994.8,463.9 997.3,464.5 999.8,465.0 1002.2,465.4 1004.7,465.7 1007.2,466.0 1009.7,466.1 1012.2,466.2 1014.7,466.2 1017.1,466.1 1019.6,465.9 1022.1,465.7 1024.6,465.3 1027.1,464.9 1029.6,464.3 1032.0,463.7 1034.5,463.0 1037.0,462.2 1039.5,461.3 1042.0,460.3 1044.5,459.2 1046.9,458.1 1049.4,456.8 1051.9,455.5 1054.4,454.0 1056.9,452.5 1059.4,450.9 1061.8,449.1 1064.3,447.3 1066.8,445.4 1069.3,443.4 1071.8,441.3 1074.3,439.1 1076.7,436.9 1079.2,434.5 1081.7,432.0 1084.2,429.4 1086.7,426.8 1089.2,424.1 1091.6,421.4 1094.1,418.6 1096.6,415.9 1099.1,413.3 1101.6,410.7 1104.1,408.3 1106.5,406.0 1109.0,403.8 1111.5,401.9 1114.0,400.2 1116.5,398.7 1118.9,397.5 1121.4,396.6 1123.9,395.9 1126.4,395.5 1128.9,395.3 1131.4,395.4 1133.8,395.6 1136.3,396.1 1138.8,396.8 1141.3,397.6 1143.8,398.6 1146.3,399.8 1148.7,401.1 1151.2,402.6 1153.7,404.2 1156.2,405.9 1158.7,407.8 1161.2,409.7 1163.6,411.8 1166.1,413.9 1168.6,416.0 1171.1,418.3 1173.6,420.5 1176.1,422.9 1178.5,425.2 1181.0,427.5 1183.5,429.9 1186.0,432.3 1188.5,434.6 1191.0,436.9 1193.4,439.2 1195.9,441.4 1198.4,443.6 1200.9,445.7 1203.4,447.7 1205.9,449.6 1208.3,451.5 1210.8,453.2 1213.3,454.8 1215.8,456.3 1218.3,457.6 1220.8,458.9 1223.2,460.1 1225.7,461.2 1228.2,462.2 1230.7,463.0 1233.2,463.8 1235.7,464.5 1238.1,465.2 1240.6,465.7 1243.1,466.1 1245.6,466.5 1248.1,466.8 1250.5,467.1 1253.0,467.2 1255.5,467.3 1258.0,467.3 1260.5,467.3 1263.0,467.2 1265.4,467.1 1267.9,466.9 1270.4,466.7 1272.9,466.4 1275.4,466.1 1277.9,465.7 1280.3,465.2 1282.8,464.7 1285.3,464.1 1287.8,463.5 1290.3,462.7 1292.8,461.8 1295.2,460.9 1297.7,459.8 1300.2,458.6 1302.7,457.3 1305.2,455.8 1307.7,454.3 1310.1,452.5 1312.6,450.6 1315.1,448.5 1317.6,446.3 1320.1,443.9 1322.6,441.4 1325.0,438.7 1327.5,436.0 1330.0,433.1 1332.5,430.2 1335.0,427.3 1337.5,424.3 1339.9,421.4 1342.4,418.5 1344.9,415.6 1347.4,412.7 1349.9,410.0 1352.4,407.3 1354.8,404.7 1357.3,402.3 1359.8,400.1 1362.3,398.0 1364.8,396.1 1367.3,394.5 1369.7,393.1 1372.2,391.9 1374.7,391.0 1377.2,390.4 1379.7,390.1 1382.1,390.1 1384.6,390.3 1387.1,390.8 1389.6,391.5 1392.1,392.5 1394.6,393.7 1397.0,395.1 1399.5,396.6 1402.0,398.3 1404.5,400.2 1407.0,402.3 1409.5,404.4 1411.9,406.7 1414.4,409.1 1416.9,411.6 1419.4,414.2 1421.9,416.8 1424.4,419.5 1426.8,422.2 1429.3,424.9 1431.8,427.7 1434.3,430.4 1436.8,433.2 1439.3,435.8 1441.7,438.5 1444.2,441.0 1446.7,443.5 1449.2,445.9 1451.7,448.1 1454.2,450.2 1456.6,452.1 1459.1,453.9 1461.6,455.6 1464.1,457.1 1466.6,458.5 1469.1,459.8 1471.5,460.9 1474.0,462.0 1476.5,463.0 1479.0,463.9 1481.5,464.7 1484.0,465.4 1486.4,466.2 1488.9,466.8 1491.4,467.4 1493.9,468.0 1496.4,468.5 1498.8,469.0 1501.3,469.4 1503.8,469.8 1506.3,470.1 1508.8,470.3 1511.3,470.5 1513.7,470.6 1516.2,470.6 1518.7,470.5 1521.2,470.4 1523.7,470.2 1526.2,469.9 1528.6,469.5 1531.1,469.0 1533.6,468.4 1536.1,467.7 1538.6,467.0 1541.1,466.1 1543.5,465.1 1546.0,464.0 1548.5,462.8 1551.0,461.4 1553.5,460.0 1556.0,458.4 1558.4,456.7 1560.9,454.9 1563.4,453.0 1565.9,450.9 1568.4,448.7 1570.9,446.3 1573.3,443.9 1575.8,441.3 1578.3,438.7 1580.8,436.0 1583.3,433.2 1585.8,430.5 1588.2,427.7 1590.7,424.9 1593.2,422.1 1595.7,419.3 1598.2,416.6 1600.7,414.0 1603.1,411.4 1605.6,408.9 1608.1,406.5 1610.6,404.3 1613.1,402.2 1615.6,400.2 1618.0,398.5 1620.5,396.7 1623.0,395.0"/>
<polyline class="cv" stroke="#ff00ff" points="235.0,484.0 237.5,495.1 240.0,506.0 242.4,516.5 244.9,526.6 247.4,536.4 249.9,545.7 252.4,554.5 254.9,562.8 257.3,570.6 259.8,577.7 262.3,584.3 264.8,590.3 267.3,595.5 269.8,600.2 272.2,604.1 274.7,607.3 277.2,609.7 279.7,611.5 282.2,612.5 284.7,612.7 287.1,612.3 289.6,611.0 292.1,609.1 294.6,606.4 297.1,602.9 299.6,598.8 302.0,594.0 304.5,588.5 307.0,582.4 309.5,575.6 312.0,568.2 314.5,560.3 316.9,551.8 319.4,542.9 321.9,533.4 324.4,523.5 326.9,513.3 329.4,502.6 331.8,491.7 334.3,480.5 336.8,469.1 339.3,457.5 341.8,445.8 344.3,433.9 346.7,422.1 349.2,410.2 351.7,398.4 354.2,386.7 356.7,375.2 359.2,363.8 361.6,352.7 364.1,341.9 366.6,331.4 369.1,321.2 371.6,311.5 374.0,302.2 376.5,293.4 379.0,285.1 381.5,277.3 384.0,270.1 386.5,263.6 388.9,257.6 391.4,252.4 393.9,247.8 396.4,243.9 398.9,240.7 401.4,238.2 403.8,236.5 406.3,235.5 408.8,235.3 411.3,235.8 413.8,237.0 416.3,239.0 418.7,241.7 421.2,245.1 423.7,249.3 426.2,254.1 428.7,259.6 431.2,265.7 433.6,272.5 436.1,279.9 438.6,287.8 441.1,296.3 443.6,305.3 446.1,314.7 448.5,324.6 451.0,334.9 453.5,345.5 456.0,356.5 458.5,367.7 461.0,379.1 463.4,390.7 465.9,402.4 468.4,414.3 470.9,426.1 473.4,438.0 475.9,449.8 478.3,461.5 480.8,473.0 483.3,484.4 485.8,495.5 488.3,506.3 490.7,516.8 493.2,526.9 495.7,536.7 498.2,546.0 500.7,554.8 503.2,563.1 505.6,570.8 508.1,578.0 510.6,584.5 513.1,590.4 515.6,595.7 518.1,600.3 520.5,604.2 523.0,607.4 525.5,609.8 528.0,611.5 530.5,612.5 533.0,612.7 535.4,612.2 537.9,611.0 540.4,609.0 542.9,606.3 545.4,602.8 547.9,598.7 550.3,593.8 552.8,588.3 555.3,582.2 557.8,575.4 560.3,568.0 562.8,560.0 565.2,551.5 567.7,542.6 570.2,533.1 572.7,523.2 575.2,512.9 577.7,502.3 580.1,491.4 582.6,480.1 585.1,468.7 587.6,457.1 590.1,445.4 592.6,433.5 595.0,421.7 597.5,409.8 600.0,398.0 602.5,386.4 605.0,374.8 607.5,363.5 609.9,352.4 612.4,341.5 614.9,331.0 617.4,320.9 619.9,311.2 622.3,301.9 624.8,293.1 627.3,284.8 629.8,277.1 632.3,269.9 634.8,263.4 637.2,257.5 639.7,252.2 642.2,247.6 644.7,243.8 647.2,240.6 649.7,238.2 652.1,236.5 654.6,235.5 657.1,235.3 659.6,235.8 662.1,237.1 664.6,239.1 667.0,241.8 669.5,245.3 672.0,249.4 674.5,254.3 677.0,259.8 679.5,266.0 681.9,272.7 684.4,280.1 686.9,288.1 689.4,296.6 691.9,305.6 694.4,315.1 696.8,325.0 699.3,335.2 701.8,345.9 704.3,356.8 706.8,368.0 709.3,379.5 711.7,391.1 714.2,402.8 716.7,414.6 719.2,426.5 721.7,438.4 724.2,450.1 726.6,461.8 729.1,473.4 731.6,484.7 734.1,495.8 736.6,506.6 739.1,517.1 741.5,527.3 744.0,537.0 746.5,546.3 749.0,555.1 751.5,563.3 753.9,571.1 756.4,578.2 758.9,584.7 761.4,590.6 763.9,595.9 766.4,600.4 768.8,604.3 771.3,607.4 773.8,609.9 776.3,611.6 778.8,612.5 781.3,612.7 783.7,612.2 786.2,610.9 788.7,608.9 791.2,606.2 793.7,602.7 796.2,598.5 798.6,593.7 801.1,588.1 803.6,581.9 806.1,575.1 808.6,567.7 811.1,559.8 813.5,551.3 816.0,542.3 818.5,532.8 821.0,522.9 823.5,512.6 826.0,501.9 828.4,491.0 830.9,479.8 833.4,468.3 835.9,456.7 838.4,445.0 840.9,433.2 843.3,421.3 845.8,409.5 848.3,397.7 850.8,386.0 853.3,374.4 855.8,363.1 858.2,352.0 860.7,341.2 863.2,330.7 865.7,320.6 868.2,310.9 870.6,301.6 873.1,292.8 875.6,284.5 878.1,276.8 880.6,269.7 883.1,263.2 885.5,257.3 888.0,252.1 890.5,247.5 893.0,243.7 895.5,240.5 898.0,238.1 900.4,236.4 902.9,235.5 905.4,235.3 907.9,235.8 910.4,237.1 912.9,239.1 915.3,241.9 917.8,245.4 920.3,249.6 922.8,254.4 925.3,260.0 927.8,266.2 930.2,273.0 932.7,280.4 935.2,288.4 937.7,296.9 940.2,305.9 942.7,315.4 945.1,325.3 947.6,335.6 950.1,346.2 952.6,357.2 955.1,368.4 957.6,379.8 960.0,391.5 962.5,403.2 965.0,415.0 967.5,426.9 970.0,438.7 972.5,450.5 974.9,462.2 977.4,473.7 979.9,485.1 982.4,496.2 984.9,507.0 987.4,517.5 989.8,527.6 992.3,537.3 994.8,546.6 997.3,555.3 999.8,563.6 1002.2,571.3 1004.7,578.4 1007.2,584.9 1009.7,590.8 1012.2,596.0 1014.7,600.6 1017.1,604.4 1019.6,607.5 1022.1,609.9 1024.6,611.6 1027.1,612.5 1029.6,612.7 1032.0,612.2 1034.5,610.9 1037.0,608.8 1039.5,606.1 1042.0,602.6 1044.5,598.4 1046.9,593.5 1049.4,587.9 1051.9,581.7 1054.4,574.9 1056.9,567.5 1059.4,559.5 1061.8,551.0 1064.3,542.0 1066.8,532.5 1069.3,522.6 1071.8,512.2 1074.3,501.6 1076.7,490.6 1079.2,479.4 1081.7,468.0 1084.2,456.3 1086.7,444.6 1089.2,432.8 1091.6,420.9 1094.1,409.1 1096.6,397.3 1099.1,385.6 1101.6,374.1 1104.1,362.7 1106.5,351.6 1109.0,340.8 1111.5,330.4 1114.0,320.2 1116.5,310.5 1118.9,301.3 1121.4,292.5 1123.9,284.3 1126.4,276.6 1128.9,269.5 1131.4,263.0 1133.8,257.1 1136.3,251.9 1138.8,247.4 1141.3,243.5 1143.8,240.4 1146.3,238.0 1148.7,236.4 1151.2,235.4 1153.7,235.3 1156.2,235.8 1158.7,237.2 1161.2,239.2 1163.6,242.0 1166.1,245.5 1168.6,249.7 1171.1,254.6 1173.6,260.2 1176.1,266.4 1178.5,273.2 1181.0,280.6 1183.5,288.6 1186.0,297.2 1188.5,306.2 1191.0,315.7 1193.4,325.6 1195.9,335.9 1198.4,346.6 1200.9,357.5 1203.4,368.8 1205.9,380.2 1208.3,391.8 1210.8,403.6 1213.3,415.4 1215.8,427.3 1218.3,439.1 1220.8,450.9 1223.2,462.6 1225.7,474.1 1228.2,485.4 1230.7,496.5 1233.2,507.3 1235.7,517.8 1238.1,527.9 1240.6,537.6 1243.1,546.8 1245.6,555.6 1248.1,563.8 1250.5,571.5 1253.0,578.6 1255.5,585.1 1258.0,591.0 1260.5,596.2 1263.0,600.7 1265.4,604.5 1267.9,607.6 1270.4,610.0 1272.9,611.7 1275.4,612.6 1277.9,612.7 1280.3,612.1 1282.8,610.8 1285.3,608.7 1287.8,605.9 1290.3,602.4 1292.8,598.2 1295.2,593.3 1297.7,587.7 1300.2,581.5 1302.7,574.7 1305.2,567.2 1307.7,559.2 1310.1,550.7 1312.6,541.7 1315.1,532.2 1317.6,522.2 1320.1,511.9 1322.6,501.2 1325.0,490.3 1327.5,479.0 1330.0,467.6 1332.5,456.0 1335.0,444.2 1337.5,432.4 1339.9,420.5 1342.4,408.7 1344.9,396.9 1347.4,385.2 1349.9,373.7 1352.4,362.4 1354.8,351.3 1357.3,340.5 1359.8,330.0 1362.3,319.9 1364.8,310.2 1367.3,301.0 1369.7,292.3 1372.2,284.0 1374.7,276.3 1377.2,269.3 1379.7,262.8 1382.1,256.9 1384.6,251.7 1387.1,247.2 1389.6,243.4 1392.1,240.3 1394.6,238.0 1397.0,236.3 1399.5,235.4 1402.0,235.3 1404.5,235.9 1407.0,237.2 1409.5,239.3 1411.9,242.1 1414.4,245.6 1416.9,249.9 1419.4,254.8 1421.9,260.4 1424.4,266.6 1426.8,273.4 1429.3,280.9 1431.8,288.9 1434.3,297.4 1436.8,306.5 1439.3,316.0 1441.7,325.9 1444.2,336.3 1446.7,346.9 1449.2,357.9 1451.7,369.1 1454.2,380.6 1456.6,392.2 1459.1,404.0 1461.6,415.8 1464.1,427.7 1466.6,439.5 1469.1,451.3 1471.5,463.0 1474.0,474.5 1476.5,485.8 1479.0,496.9 1481.5,507.7 1484.0,518.1 1486.4,528.2 1488.9,537.9 1491.4,547.1 1493.9,555.9 1496.4,564.1 1498.8,571.8 1501.3,578.9 1503.8,585.3 1506.3,591.2 1508.8,596.3 1511.3,600.8 1513.7,604.6 1516.2,607.7 1518.7,610.1 1521.2,611.7 1523.7,612.6 1526.2,612.7 1528.6,612.1 1531.1,610.8 1533.6,608.7 1536.1,605.8 1538.6,602.3 1541.1,598.1 1543.5,593.1 1546.0,587.5 1548.5,581.3 1551.0,574.4 1553.5,567.0 1556.0,559.0 1558.4,550.4 1560.9,541.4 1563.4,531.8 1565.9,521.9 1568.4,511.6 1570.9,500.9 1573.3,489.9 1575.8,478.7 1578.3,467.2 1580.8,455.6 1583.3,443.8 1585.8,432.0 1588.2,420.2 1590.7,408.3 1593.2,396.5 1595.7,384.8 1598.2,373.3 1600.7,362.0 1603.1,350.9 1605.6,340.1 1608.1,329.7 1610.6,319.6 1613.1,309.9 1615.6,300.7 1618.0,292.0 1620.5,283.8 1623.0,276.1"/>
</g></g>
<g filter="url(#soft)">
<text class="tk" transform="translate(219.80,67.50) scale(0.9800,1)" text-anchor="end">0.02</text>
<text class="tk" transform="translate(219.80,256.25) scale(0.9800,1)" text-anchor="end">0.01</text>
<text class="tk" transform="translate(219.80,445.00) scale(0.9800,1)" text-anchor="end">0.00</text>
<text class="tk" transform="translate(219.80,633.75) scale(0.9800,1)" text-anchor="end">-0.01</text>
<text class="tk" transform="translate(219.80,822.50) scale(0.9800,1)" text-anchor="end">-0.02</text>
<text class="tk" transform="translate(237.80,875.40) scale(0.9800,1)" text-anchor="middle">0.0</text>
<text class="tk" transform="translate(697.47,875.40) scale(0.9800,1)" text-anchor="middle">2.0</text>
<text class="tk" transform="translate(1157.13,875.40) scale(0.9800,1)" text-anchor="middle">4.0</text>
<text class="tk" transform="translate(1616.80,875.40) scale(0.9800,1)" text-anchor="middle">6.0</text>
<text class="lb" transform="translate(928.60,949.00) scale(1.0060,1)" text-anchor="middle">Time (sec)</text>
<text class="lb" transform="translate(76.00,426.00) scale(1.0000,1) rotate(-90)" text-anchor="middle">Vertical Displacement (m)</text>
</g>
<rect x="755.3" y="72.8" width="835.6" height="133.8" fill="#fff"/>
<rect x="1585.3" y="72.8" width="2.6" height="133.8" fill="#cacaca"/>
<rect x="758.0" y="72.8" width="3.0" height="133.8" fill="#c4c4c4"/>
<rect x="755.3" y="70.0" width="835.6" height="2.8" fill="#c0c0c0"/>
<rect x="755.3" y="201.3" width="835.6" height="2.7" fill="#b0b0b0"/>
<rect x="755.3" y="72.8" width="2.7" height="133.8" fill="#b0b0b0"/>
<rect x="755.3" y="204.0" width="835.6" height="2.6" fill="#a6a6a6"/>
<rect x="755.3" y="72.8" width="835.6" height="2.2" fill="#9a9a9a"/>
<rect x="1587.9" y="72.8" width="3.0" height="133.8" fill="#585858"/>
<g filter="url(#soft)">
<line x1="770.6" y1="108.6" x2="889.6" y2="108.6" stroke="#0000ff" stroke-width="5.6"/>
<text class="lg" transform="translate(897.90,127.00) scale(0.9570,1)" text-anchor="start">Eq</text>
<line x1="1079.1" y1="108.6" x2="1198.1" y2="108.6" stroke="#000000" stroke-width="5.6"/>
<text class="lg" transform="translate(1205.50,127.00) scale(0.9570,1)" text-anchor="start">Sq</text>
<line x1="770.6" y1="168.6" x2="889.6" y2="168.6" stroke="#ff0000" stroke-width="5.6"/>
<text class="lg" transform="translate(897.90,187.00) scale(0.9570,1)" text-anchor="start">Eq + Sq</text>
<line x1="1079.1" y1="168.6" x2="1198.1" y2="168.6" stroke="#ff00ff" stroke-width="5.6"/>
<text class="lg" transform="translate(1205.50,187.00) scale(0.9570,1)" text-anchor="start">Seismic excitation</text>
</g>
</g>
<text class="cap" y="1111"><tspan x="851.8" font-size="85">(</tspan><tspan x="878.7" font-weight="bold" font-size="83.5">a</tspan><tspan x="918.5" font-size="85">)</tspan></text>
<text class="cap" y="2334"><tspan x="846.8" font-size="85">(</tspan><tspan x="873.6" font-weight="bold" font-size="88.5">b</tspan><tspan x="922.0" font-size="85">)</tspan></text>
<text class="cap" y="3556"><tspan x="853.7" font-size="85">(</tspan><tspan x="881.1" font-weight="bold" font-size="84">c</tspan><tspan x="915.1" font-size="85">)</tspan></text>
</svg>
</body></html>
